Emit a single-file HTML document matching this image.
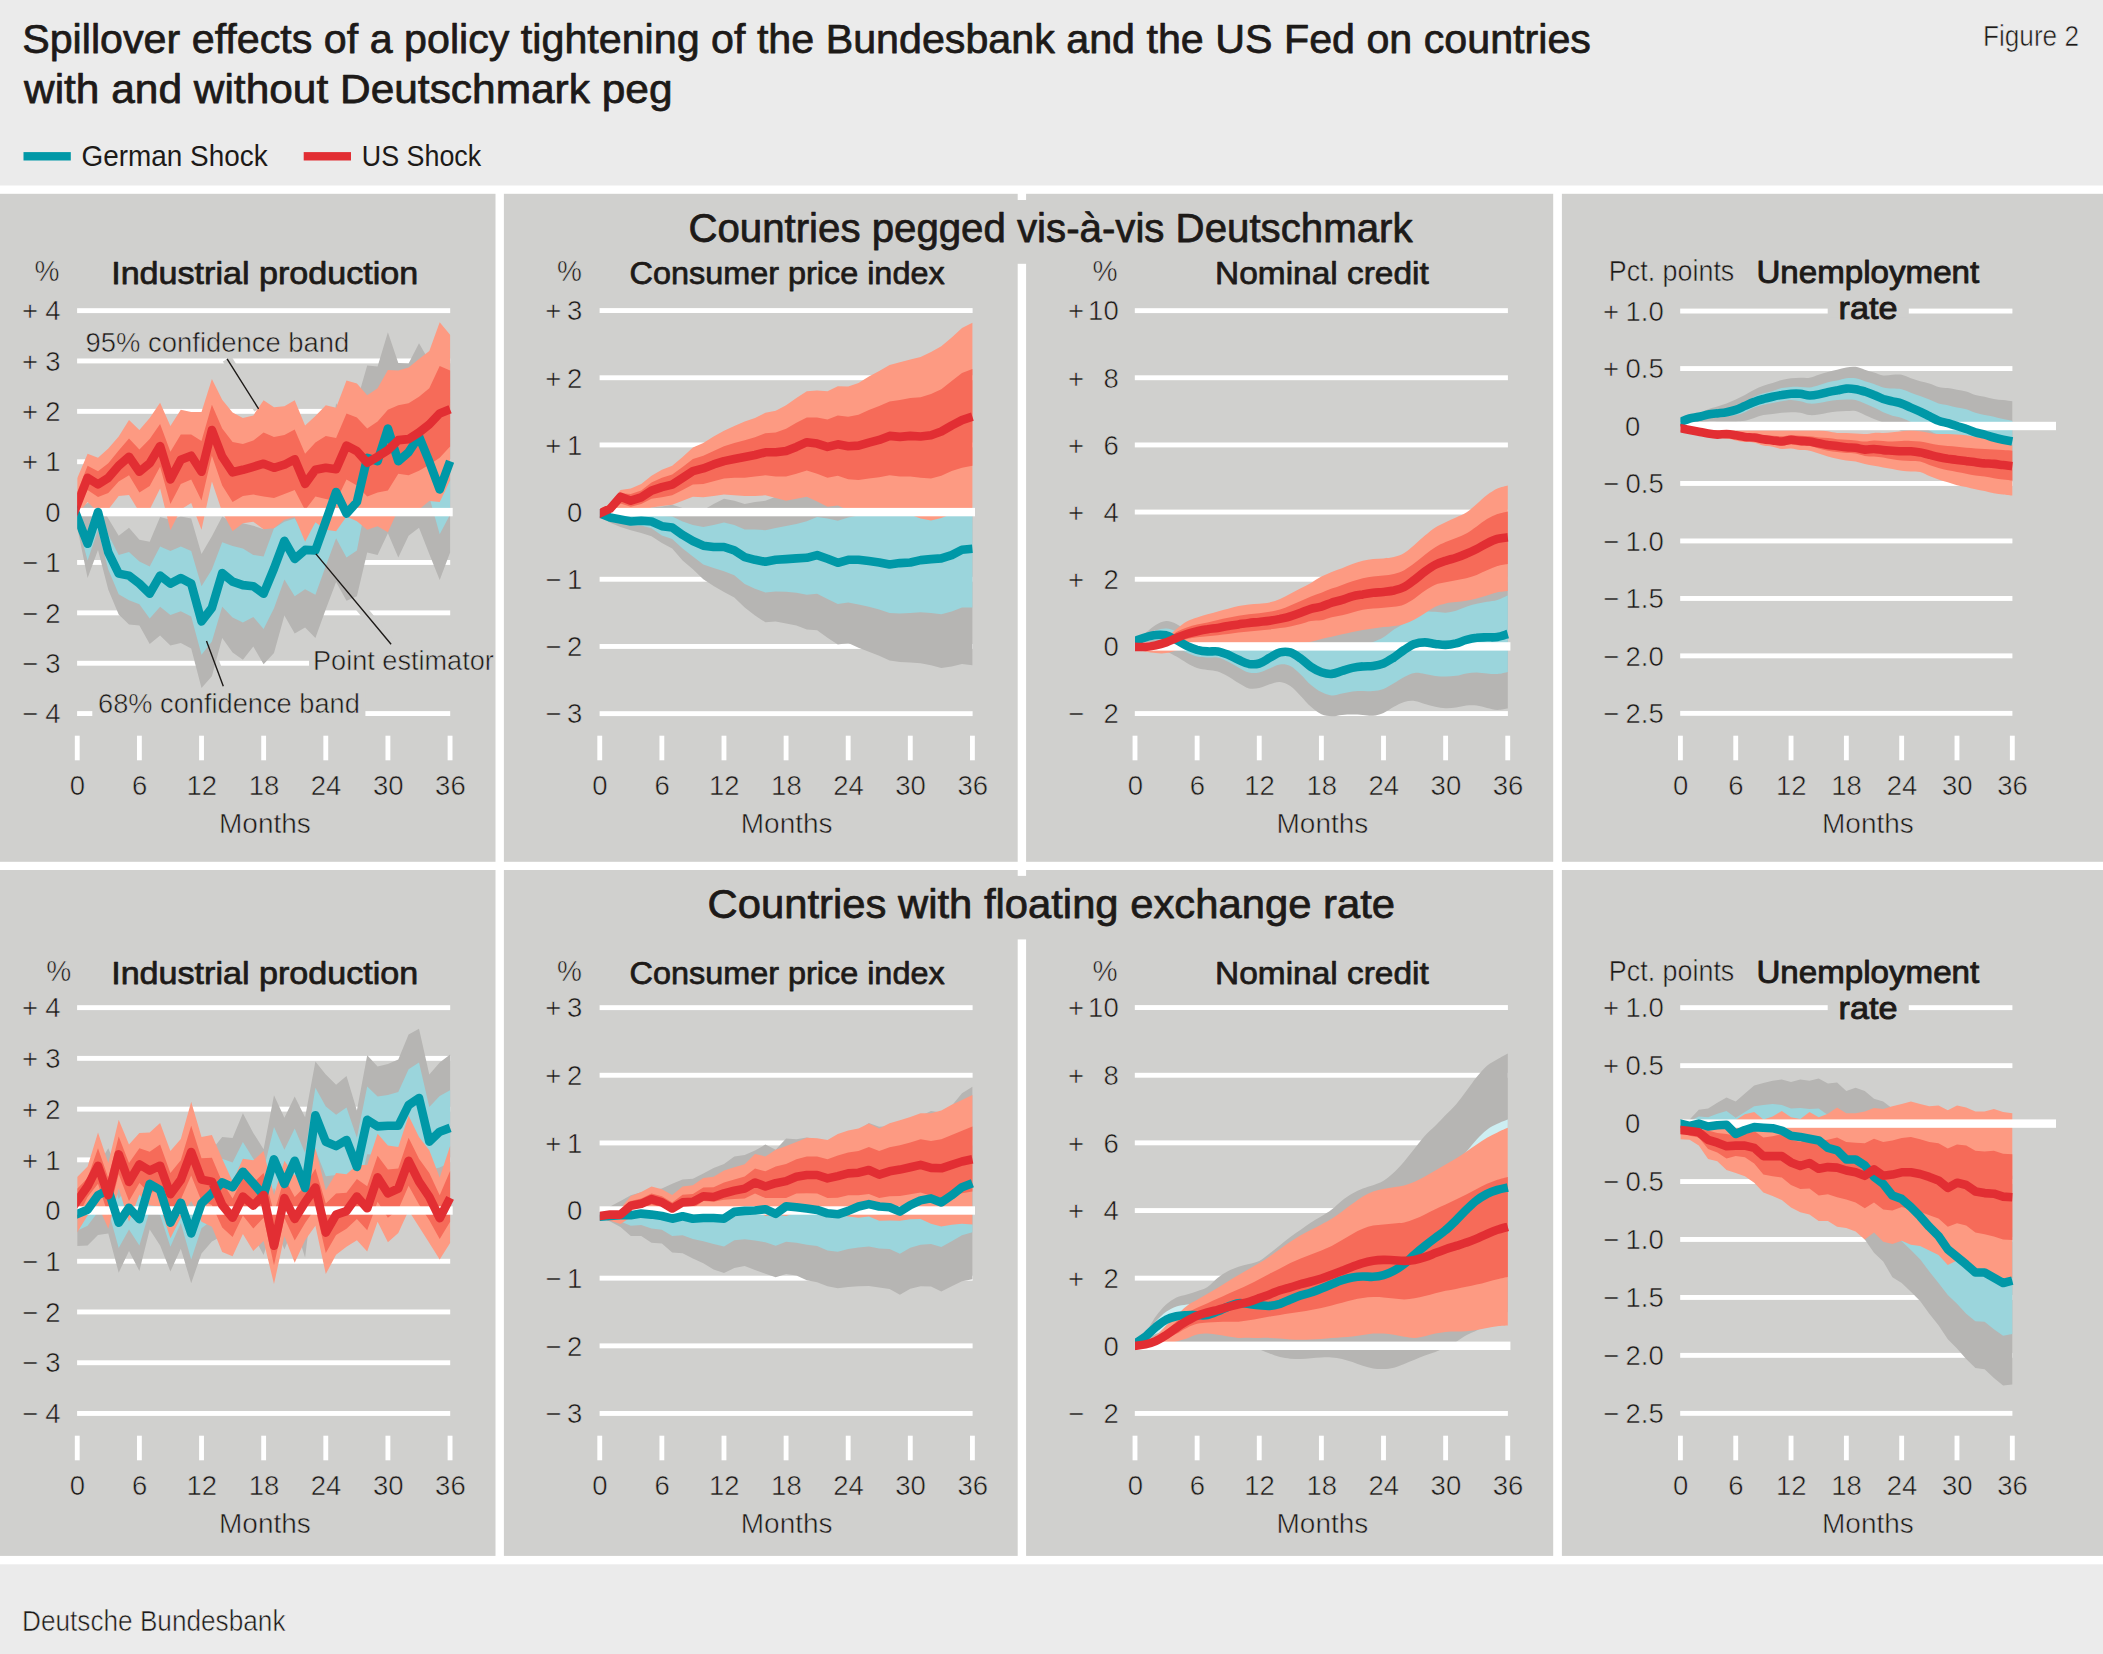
<!DOCTYPE html>
<html><head><meta charset="utf-8"><title>Figure 2</title>
<style>html,body{margin:0;padding:0;background:#ebebeb}svg{display:block}text{font-family:'Liberation Sans', sans-serif;fill:#1d1a18}</style>
</head><body>
<svg xmlns="http://www.w3.org/2000/svg" width="2103" height="1654" viewBox="0 0 2103 1654">
<rect width="2103" height="1654" fill="#ebebeb"/>
<rect x="0" y="185.5" width="2103" height="1378.8" fill="#fff"/>
<rect x="0" y="193.8" width="495.5" height="668" fill="#d0d0ce"/>
<rect x="503.9" y="193.8" width="513.8" height="668" fill="#d0d0ce"/>
<rect x="1026.1" y="193.8" width="527.1" height="668" fill="#d0d0ce"/>
<rect x="1561.9" y="193.8" width="541.1" height="668" fill="#d0d0ce"/>
<rect x="0" y="870" width="495.5" height="685.9" fill="#d0d0ce"/>
<rect x="503.9" y="870" width="513.8" height="685.9" fill="#d0d0ce"/>
<rect x="1026.1" y="870" width="527.1" height="685.9" fill="#d0d0ce"/>
<rect x="1561.9" y="870" width="541.1" height="685.9" fill="#d0d0ce"/>
<rect x="1017" y="200" width="10" height="63.8" fill="#d0d0ce"/>
<rect x="1017" y="875.9" width="10" height="63.5" fill="#d0d0ce"/>
<g id="p1">
<rect x="77.1" y="308.2" width="373.1" height="4.9" fill="#fff"/>
<rect x="77.1" y="358.5" width="373.1" height="4.9" fill="#fff"/>
<rect x="77.1" y="408.9" width="373.1" height="4.9" fill="#fff"/>
<rect x="77.1" y="459.3" width="373.1" height="4.9" fill="#fff"/>
<rect x="77.1" y="560" width="373.1" height="4.9" fill="#fff"/>
<rect x="77.1" y="610.4" width="373.1" height="4.9" fill="#fff"/>
<rect x="77.1" y="660.8" width="373.1" height="4.9" fill="#fff"/>
<rect x="77.1" y="711.1" width="373.1" height="4.9" fill="#fff"/>
<rect x="92.3" y="690" width="273.1" height="30" fill="#d0d0ce"/>
<rect x="309" y="650" width="160" height="26" fill="#d0d0ce"/>
<path d="M227.1 358.9L258.6 408.9M315.9 553.9L391.1 644.2M206.5 641L223.3 686.2" stroke="#d0d0ce" stroke-width="10" fill="none"/>
<clipPath id="c1"><rect x="77.2" y="0" width="500" height="1654"/></clipPath>
<g clip-path="url(#c1)">
<path d="M77.2 509.6L87.6 503L98 501L108.3 518.6L118.7 535.8L129 527.7L139.4 539.8L149.7 541.8L160.1 517.1L170.4 519.7L180.8 516.6L191.2 518.6L201.5 553.9L211.9 536.3L222.2 516.6L232.6 522.2L242.9 523.2L253.3 525.7L263.6 529.2L274 507.1L284.4 497L294.7 502L305.1 507.1L315.4 502L325.8 471.8L336.1 403.3L346.5 421.4L356.9 401.3L367.2 365.5L377.6 366.5L387.9 332.3L398.3 363L408.6 363.5L419 343.3L429.3 361L439.7 386.2L450.1 361L450.1 552.4L439.7 580.1L429.3 553.9L419 527.7L408.6 535.8L398.3 557.4L387.9 533.3L377.6 554.9L367.2 552.4L356.9 596.2L346.5 600.8L336.1 582.1L325.8 609.3L315.4 638L305.1 627.5L294.7 633.5L284.4 615.4L274 653.1L263.6 664.2L253.3 646.6L242.9 659.7L232.6 652.6L222.2 638L211.9 676.3L201.5 687.9L191.2 648.6L180.8 643.1L170.4 645.6L160.1 635.5L149.7 644.1L139.4 625.4L129 624.4L118.7 614.4L108.3 589.7L98 549.9L87.6 578.1L77.2 527.2Z" fill="#b6b5b3"/>
<path d="M77.2 512.1L87.6 537.3L98 506.1L108.3 534.8L118.7 554.9L129 551.9L139.4 561.5L149.7 566.5L160.1 546.4L170.4 550.9L180.8 546.4L191.2 550.9L201.5 586.2L211.9 569.5L222.2 542.3L232.6 545.9L242.9 548.4L253.3 554.9L263.6 556.4L274 528.2L284.4 521.7L294.7 518.6L305.1 533.8L315.4 522.2L325.8 497L336.1 466.8L346.5 486.9L356.9 476.8L367.2 431.5L377.6 436.5L387.9 401.3L398.3 436.5L408.6 426.5L419 411.4L429.3 436.5L439.7 461.7L450.1 436.5L450.1 514.6L439.7 534.3L429.3 497L419 476.8L408.6 486.9L398.3 497L387.9 466.8L377.6 497L367.2 497L356.9 550.4L346.5 557.4L336.1 538.3L325.8 566L315.4 594.7L305.1 589.2L294.7 596.2L284.4 579.6L274 608.3L263.6 629L253.3 616.9L242.9 622.4L232.6 617.4L222.2 606.8L211.9 641.6L201.5 654.7L191.2 616.4L180.8 611.3L170.4 614.9L160.1 606.8L149.7 618.4L139.4 604.3L129 600.3L118.7 594.2L108.3 569.5L98 529.7L87.6 560.5L77.2 522.2Z" fill="#9bd5dc"/>
<path d="M77.2 478.3L87.6 453.7L98 457.7L108.3 448.6L118.7 436.5L129 419.9L139.4 430L149.7 417.9L160.1 402.8L170.4 426L180.8 409.8L191.2 411.9L201.5 411.9L211.9 379.1L222.2 399.8L232.6 412.4L242.9 417.9L253.3 415.4L263.6 400.3L274 407.3L284.4 406.3L294.7 400.3L305.1 425.5L315.4 415.9L325.8 405.3L336.1 407.8L346.5 380.6L356.9 383.6L367.2 395.2L377.6 388.2L387.9 370L398.3 370.5L408.6 367.5L419 359L429.3 350.9L439.7 322.2L450.1 334.8L450.1 480.4L439.7 502L429.3 501L419 509.6L408.6 508.1L398.3 509.6L387.9 532.2L377.6 526.2L367.2 529.7L356.9 521.2L346.5 516.6L336.1 531.2L325.8 529.7L315.4 522.2L305.1 541.8L294.7 517.1L284.4 519.7L274 528.2L263.6 529.2L253.3 521.7L242.9 523.2L232.6 531.2L222.2 512.1L211.9 481.4L201.5 529.7L191.2 503L180.8 509.6L170.4 530.2L160.1 488.4L149.7 509.6L139.4 512.1L129 495L118.7 496L108.3 509.6L98 512.1L87.6 502L77.2 514.6Z" fill="#fd9a82"/>
<path d="M77.2 492L87.6 465.8L98 471.3L108.3 463.2L118.7 450.6L129 438.6L139.4 449.6L149.7 439.1L160.1 423.9L170.4 451.7L180.8 434.5L191.2 434.5L201.5 441.1L211.9 404.8L222.2 428.5L232.6 442.1L242.9 444.1L253.3 440.6L263.6 432.5L274 437L284.4 435L294.7 429.5L305.1 453.7L315.4 442.6L325.8 436L336.1 438L346.5 413.4L356.9 417.4L367.2 428.5L377.6 421.4L387.9 409.8L398.3 405.3L408.6 403.3L419 396.7L429.3 388.2L439.7 366L450.1 370.5L450.1 446.6L439.7 457.7L429.3 464.7L419 470.8L408.6 475.3L398.3 473.8L387.9 490.4L377.6 492.5L367.2 496.5L356.9 485.4L346.5 479.4L336.1 501L325.8 499L315.4 496.5L305.1 510.1L294.7 489.9L284.4 494L274 498L263.6 496.5L253.3 494.5L242.9 496L232.6 502L222.2 485.4L211.9 455.7L201.5 500.5L191.2 479.4L180.8 483.9L170.4 504L160.1 466.8L149.7 485.9L139.4 492.5L129 475.3L118.7 481.4L108.3 493L98 497L87.6 489.9L77.2 509.6Z" fill="#f66b59"/>
</g>
<rect x="77.2" y="507.9" width="375.5" height="8.4" fill="#fff"/>
<g clip-path="url(#c1)">
<path d="M69 495.8L77.2 517.1L87.6 543.8L98 512.1L108.3 552.4L118.7 573.6L129 575.6L139.4 583.6L149.7 593.7L160.1 575.6L170.4 583.6L180.8 578.1L191.2 583.6L201.5 621.4L211.9 607.8L222.2 573.1L232.6 581.6L242.9 585.1L253.3 586.2L263.6 593.7L274 568.5L284.4 540.8L294.7 558.9L305.1 549.9L315.4 550.4L325.8 521.2L336.1 492L346.5 513.6L356.9 502L367.2 457.9L377.6 461.2L387.9 428.5L398.3 461.2L408.6 452.2L419 436.5L429.3 461.7L439.7 489.4L450.1 461.2" fill="none" stroke="#0098a7" stroke-width="8.6" stroke-linejoin="round" stroke-linecap="butt"/>
<path d="M69 525.9L77.2 504.5L87.6 477.8L98 484.4L108.3 477.8L118.7 465.8L129 456.7L139.4 471.8L149.7 463.2L160.1 446.1L170.4 479.4L180.8 459.7L191.2 455.7L201.5 471.8L211.9 430L222.2 456.7L232.6 472.3L242.9 469.8L253.3 466.8L263.6 463.7L274 467.8L284.4 464.7L294.7 459.2L305.1 483.9L315.4 469.8L325.8 467.8L336.1 469.3L346.5 445.6L356.9 451.1L367.2 462.7L377.6 456.7L387.9 450.1L398.3 440.1L408.6 439.1L419 432.5L429.3 424.4L439.7 413.4L450.1 409.3" fill="none" stroke="#e22e33" stroke-width="8.6" stroke-linejoin="round" stroke-linecap="butt"/>
</g>
<rect x="74.83" y="735.7" width="4.85" height="24.6" fill="#fff"/>
<rect x="136.96" y="735.7" width="4.85" height="24.6" fill="#fff"/>
<rect x="199.1" y="735.7" width="4.85" height="24.6" fill="#fff"/>
<rect x="261.23" y="735.7" width="4.85" height="24.6" fill="#fff"/>
<rect x="323.36" y="735.7" width="4.85" height="24.6" fill="#fff"/>
<rect x="385.5" y="735.7" width="4.85" height="24.6" fill="#fff"/>
<rect x="447.63" y="735.7" width="4.85" height="24.6" fill="#fff"/>
</g>
<g id="p2">
<rect x="599.6" y="308.1" width="373" height="4.9" fill="#fff"/>
<rect x="599.6" y="375.3" width="373" height="4.9" fill="#fff"/>
<rect x="599.6" y="442.5" width="373" height="4.9" fill="#fff"/>
<rect x="599.6" y="576.8" width="373" height="4.9" fill="#fff"/>
<rect x="599.6" y="644" width="373" height="4.9" fill="#fff"/>
<rect x="599.6" y="711.2" width="373" height="4.9" fill="#fff"/>
<clipPath id="c2"><rect x="599.8" y="0" width="500" height="1654"/></clipPath>
<g clip-path="url(#c2)">
<path d="M599.8 512.1L610.1 512.1L620.5 510.8L630.8 510.1L641.2 509.4L651.5 507.4L661.9 506.4L672.2 504.7L682.6 508.1L692.9 510.8L703.3 510.1L713.6 504L724 498.7L734.3 500.7L744.7 504L755 502L765.4 500.7L775.7 496.7L786.1 497.3L796.4 496L806.8 494.6L817.1 497.3L827.5 500L837.8 500.7L848.2 504L858.5 506.7L868.9 508.7L879.2 508.7L889.6 508.7L899.9 508.7L910.3 508.7L920.6 510.1L931 510.1L941.3 510.1L951.7 510.1L962 510.1L972.4 510.1L972.4 665.2L962 663.9L951.7 666.6L941.3 667.9L931 665.2L920.6 663.2L910.3 662.6L899.9 661.9L889.6 660.5L879.2 655.8L868.9 651.8L858.5 647.8L848.2 643.1L837.8 644.4L827.5 637.7L817.1 630.3L806.8 629.6L796.4 625.6L786.1 623.6L775.7 621.6L765.4 622.3L755 615.5L744.7 607.5L734.3 597.4L724 592L713.6 586L703.3 579.3L692.9 569.2L682.6 560.5L672.2 548.4L661.9 543L651.5 536.3L641.2 532.9L630.8 530.2L620.5 526.9L610.1 522.8L599.8 515.5Z" fill="#b6b5b3"/>
<path d="M599.8 512.8L610.1 514.1L620.5 514.8L630.8 515.5L641.2 515.5L651.5 515.5L661.9 516.1L672.2 516.5L682.6 521.5L692.9 524.9L703.3 526.9L713.6 524.9L724 522.5L734.3 524.9L744.7 529.6L755 529.6L765.4 530.2L775.7 527.9L786.1 525.9L796.4 523.9L806.8 521.2L817.1 517.1L827.5 518.5L837.8 520.8L848.2 517.5L858.5 515.5L868.9 515.5L879.2 515.5L889.6 515.5L899.9 515.5L910.3 515.5L920.6 514.1L931 514.1L941.3 514.1L951.7 515.5L962 515.5L972.4 515.5L972.4 607.5L962 607.5L951.7 611.5L941.3 614.2L931 612.9L920.6 612.2L910.3 612.9L899.9 613.5L889.6 612.9L879.2 609.5L868.9 606.8L858.5 604.5L848.2 602.4L837.8 604.1L827.5 599.1L817.1 593.7L806.8 594.7L796.4 592.7L786.1 591.7L775.7 591.4L765.4 592.4L755 588.7L744.7 584L734.3 575.2L724 571.2L713.6 567.9L703.3 564.5L692.9 556.4L682.6 548.4L672.2 539L661.9 535.6L651.5 528.2L641.2 525.5L630.8 525.5L620.5 522.8L610.1 520.2L599.8 514.8Z" fill="#9bd5dc"/>
<path d="M599.8 508.7L610.1 504L620.5 489.9L630.8 488.6L641.2 483.9L651.5 475.8L661.9 469.8L672.2 465.8L682.6 457L692.9 447.6L703.3 442.9L713.6 436.5L724 430.8L734.3 426.1L744.7 421.4L755 418.1L765.4 412.7L775.7 410.7L786.1 405.3L796.4 397.9L806.8 391.2L817.1 390.5L827.5 391.2L837.8 386.2L848.2 386.5L858.5 383.1L868.9 376.4L879.2 371L889.6 365L899.9 362.3L910.3 359.6L920.6 356.9L931 351.9L941.3 346.2L951.7 337.5L962 328.1L972.4 322.7L972.4 512.1L962 512.1L951.7 514.1L941.3 518.1L931 520.5L920.6 518.5L910.3 514.8L899.9 514.1L889.6 514.1L879.2 514.1L868.9 514.1L858.5 513.4L848.2 510.1L837.8 505.4L827.5 506.7L817.1 501.4L806.8 496.7L796.4 498.7L786.1 500.7L775.7 498L765.4 495.3L755 496L744.7 496L734.3 495.3L724 494.6L713.6 496L703.3 497.3L692.9 496.7L682.6 500.7L672.2 504.7L661.9 506.1L651.5 507.4L641.2 510.8L630.8 512.1L620.5 510.1L610.1 517.5L599.8 517.5Z" fill="#fd9a82"/>
<path d="M599.8 510.8L610.1 506.1L620.5 493.3L630.8 494L641.2 490.6L651.5 482.5L661.9 477.8L672.2 474.5L682.6 467.1L692.9 459L703.3 455.7L713.6 451L724 446.3L734.3 442.9L744.7 440.2L755 437.2L765.4 433.2L775.7 432.5L786.1 428.8L796.4 422.8L806.8 417.4L817.1 417.4L827.5 419.4L837.8 415.4L848.2 416.7L858.5 414.7L868.9 410L879.2 406L889.6 401.6L899.9 399.9L910.3 397.9L920.6 397.2L931 393.9L941.3 389.2L951.7 381.1L962 373.1L972.4 369L972.4 465.8L962 467.8L951.7 471.1L941.3 475.8L931 478.5L920.6 477.8L910.3 476.5L899.9 476.5L889.6 475.2L879.2 477.2L868.9 478.5L858.5 479.9L848.2 479.2L837.8 475.8L827.5 477.8L817.1 473.8L806.8 470.5L796.4 473.8L786.1 476.5L775.7 476.5L765.4 475.2L755 476.5L744.7 477.8L734.3 477.8L724 478.5L713.6 481.2L703.3 483.9L692.9 484.6L682.6 489.9L672.2 495.3L661.9 497.3L651.5 498.7L641.2 504L630.8 506.7L620.5 503.4L610.1 512.1L599.8 515.5Z" fill="#f66b59"/>
</g>
<rect x="599.6" y="507.9" width="375.4" height="8.4" fill="#fff"/>
<g clip-path="url(#c2)">
<path d="M591.5 510.2L599.8 513.4L610.1 517.5L620.5 519.5L630.8 521.5L641.2 520.8L651.5 521.5L661.9 526.2L672.2 527.5L682.6 534.9L692.9 541L703.3 545.7L713.6 547L724 547L734.3 550.4L744.7 557.1L755 559.8L765.4 561.8L775.7 559.8L786.1 559.1L796.4 558.4L806.8 557.8L817.1 555.1L827.5 558.8L837.8 562.8L848.2 559.8L858.5 559.8L868.9 561.1L879.2 562.5L889.6 564.5L899.9 563.1L910.3 562.5L920.6 560.1L931 559.1L941.3 558.4L951.7 555.1L962 549.7L972.4 548.7" fill="none" stroke="#0098a7" stroke-width="8.6" stroke-linejoin="round" stroke-linecap="butt"/>
<path d="M591.5 517.2L599.8 513.4L610.1 508.7L620.5 496.7L630.8 500.7L641.2 497.3L651.5 490.6L661.9 487.2L672.2 484.6L682.6 477.8L692.9 471.1L703.3 468.4L713.6 464.4L724 461.1L734.3 459L744.7 457L755 455L765.4 452.3L775.7 452.3L786.1 451L796.4 446.9L806.8 442.2L817.1 443.6L827.5 446.9L837.8 444.3L848.2 446.3L858.5 445.6L868.9 442.6L879.2 439.9L889.6 435.9L899.9 436.9L910.3 435.9L920.6 436.5L931 435.2L941.3 431.5L951.7 425.5L962 420.1L972.4 416.7" fill="none" stroke="#e22e33" stroke-width="8.6" stroke-linejoin="round" stroke-linecap="butt"/>
</g>
<rect x="597.33" y="735.7" width="4.85" height="24.6" fill="#fff"/>
<rect x="659.44" y="735.7" width="4.85" height="24.6" fill="#fff"/>
<rect x="721.55" y="735.7" width="4.85" height="24.6" fill="#fff"/>
<rect x="783.66" y="735.7" width="4.85" height="24.6" fill="#fff"/>
<rect x="845.76" y="735.7" width="4.85" height="24.6" fill="#fff"/>
<rect x="907.87" y="735.7" width="4.85" height="24.6" fill="#fff"/>
<rect x="969.98" y="735.7" width="4.85" height="24.6" fill="#fff"/>
</g>
<g id="p3">
<rect x="1134.8" y="308.2" width="373.1" height="4.9" fill="#fff"/>
<rect x="1134.8" y="375.3" width="373.1" height="4.9" fill="#fff"/>
<rect x="1134.8" y="442.5" width="373.1" height="4.9" fill="#fff"/>
<rect x="1134.8" y="509.6" width="373.1" height="4.9" fill="#fff"/>
<rect x="1134.8" y="576.8" width="373.1" height="4.9" fill="#fff"/>
<rect x="1134.8" y="711.1" width="373.1" height="4.9" fill="#fff"/>
<clipPath id="c3"><rect x="1135" y="0" width="500" height="1654"/></clipPath>
<g clip-path="url(#c3)">
<path d="M1135 639.7C1136.7 638.6 1141.9 635.4 1145.4 633C1148.8 630.5 1152.3 626.9 1155.7 624.9C1159.2 622.9 1162.6 621 1166.1 620.9C1169.5 620.7 1173 622.2 1176.4 623.9C1179.9 625.6 1183.3 628.9 1186.8 631.3C1190.2 633.6 1193.7 636.3 1197.1 638C1200.6 639.7 1204 640.6 1207.5 641.4C1210.9 642.1 1214.4 642.1 1217.8 642.4C1221.3 642.7 1224.7 642.8 1228.2 643C1231.6 643.3 1235.1 643.4 1238.5 643.7C1242 644 1245.4 644.6 1248.9 644.7C1252.3 644.9 1255.8 644.9 1259.2 644.7C1262.7 644.6 1266.2 644 1269.6 643.7C1273.1 643.4 1276.5 643.2 1280 643C1283.4 642.9 1286.9 643.3 1290.3 643C1293.8 642.8 1297.2 642.5 1300.7 641.4C1304.1 640.2 1307.6 637.7 1311 636.3C1314.5 634.9 1317.9 633.8 1321.4 633C1324.8 632.1 1328.3 631.8 1331.7 631.3C1335.2 630.7 1338.6 630.2 1342.1 629.6C1345.5 629.1 1349 628.5 1352.4 627.9C1355.9 627.4 1359.3 627.1 1362.8 626.3C1366.2 625.4 1369.7 624.3 1373.1 622.9C1376.6 621.5 1380 620.1 1383.5 617.9C1387 615.6 1390.4 612 1393.9 609.5C1397.3 606.9 1400.8 605 1404.2 602.7C1407.7 600.5 1411.1 598.5 1414.6 596C1418 593.5 1421.5 589.3 1424.9 587.6C1428.4 586 1431.8 586.2 1435.3 586C1438.7 585.7 1442.2 586.2 1445.6 586C1449.1 585.7 1452.5 585.4 1456 584.3C1459.4 583.2 1462.9 580.6 1466.3 579.2C1469.8 577.8 1473.2 577 1476.7 575.9C1480.1 574.8 1483.6 573.6 1487 572.5C1490.5 571.4 1493.9 570.6 1497.4 569.2C1500.8 567.8 1506 565 1507.8 564.1L1507.8 708.5C1506 708.7 1500.8 710 1497.4 709.9C1493.9 709.8 1490.5 708.6 1487 707.9C1483.6 707.1 1480.1 705.9 1476.7 705.5C1473.2 705.1 1469.8 705.2 1466.3 705.5C1462.9 705.8 1459.4 707.1 1456 707.5C1452.5 708 1449.1 708.3 1445.6 708.2C1442.2 708.1 1438.7 707.5 1435.3 706.8C1431.8 706.1 1428.4 705 1424.9 704C1421.5 703 1418 701.3 1414.6 701C1411.1 700.6 1407.7 701 1404.2 702C1400.8 703 1397.3 705 1393.9 706.8C1390.4 708.7 1387 711.4 1383.5 712.9C1380 714.4 1376.6 715.4 1373.1 715.7C1369.7 716.1 1366.2 715.1 1362.8 714.9C1359.3 714.7 1355.9 714.6 1352.4 714.6C1349 714.6 1345.5 714.6 1342.1 714.9C1338.6 715.2 1335.2 716.4 1331.7 716.2C1328.3 716.1 1324.8 715.8 1321.4 714.2C1317.9 712.7 1314.5 709.9 1311 706.8C1307.6 703.8 1304.1 699.4 1300.7 695.9C1297.2 692.5 1293.8 688.3 1290.3 686C1286.9 683.7 1283.4 682.3 1280 682C1276.5 681.7 1273.1 683.3 1269.6 684.3C1266.2 685.4 1262.7 687.4 1259.2 688C1255.8 688.7 1252.3 689.2 1248.9 688.4C1245.4 687.5 1242 685 1238.5 683C1235.1 681 1231.6 678.4 1228.2 676.5C1224.7 674.5 1221.3 672.5 1217.8 671.4C1214.4 670.3 1210.9 670.5 1207.5 669.9C1204 669.3 1200.6 669.1 1197.1 667.9C1193.7 666.7 1190.2 664.8 1186.8 662.9C1183.3 661 1179.9 658.4 1176.4 656.5C1173 654.6 1169.5 652.6 1166.1 651.4C1162.6 650.3 1159.2 650.3 1155.7 649.8C1152.3 649.2 1148.8 648.6 1145.4 648.1C1141.9 647.5 1136.7 646.7 1135 646.4Z" fill="#b6b5b3"/>
<path d="M1135 639.7C1136.7 638.8 1141.9 636.2 1145.4 634.6C1148.8 633.1 1152.3 631.3 1155.7 630.3C1159.2 629.2 1162.6 628.3 1166.1 628.4C1169.5 628.6 1173 629.7 1176.4 631.3C1179.9 632.9 1183.3 636.2 1186.8 638C1190.2 639.9 1193.7 641.4 1197.1 642.4C1200.6 643.3 1204 643.5 1207.5 643.7C1210.9 643.9 1214.4 643.5 1217.8 643.7C1221.3 643.9 1224.7 644.3 1228.2 644.7C1231.6 645.2 1235.1 645.8 1238.5 646.4C1242 647 1245.4 647.8 1248.9 648.1C1252.3 648.4 1255.8 648.6 1259.2 648.1C1262.7 647.5 1266.2 645.6 1269.6 644.7C1273.1 643.9 1276.5 643.3 1280 643C1283.4 642.8 1286.9 642.8 1290.3 643C1293.8 643.3 1297.2 643.9 1300.7 644.7C1304.1 645.6 1307.6 647.2 1311 648.1C1314.5 648.9 1317.9 649.5 1321.4 649.8C1324.8 650 1328.3 649.9 1331.7 649.8C1335.2 649.6 1338.6 649.4 1342.1 649.1C1345.5 648.8 1349 648.5 1352.4 648.1C1355.9 647.6 1359.3 647.4 1362.8 646.4C1366.2 645.4 1369.7 643.5 1373.1 642C1376.6 640.5 1380 639.4 1383.5 637.3C1387 635.2 1390.4 631.8 1393.9 629.4C1397.3 627.1 1400.8 625.4 1404.2 623.4C1407.7 621.4 1411.1 619.5 1414.6 617.5C1418 615.6 1421.5 612.8 1424.9 611.8C1428.4 610.9 1431.8 611.7 1435.3 611.8C1438.7 612 1442.2 612.8 1445.6 612.7C1449.1 612.5 1452.5 611.8 1456 610.8C1459.4 609.8 1462.9 608 1466.3 606.8C1469.8 605.6 1473.2 604.6 1476.7 603.8C1480.1 602.9 1483.6 602.4 1487 601.7C1490.5 601.1 1493.9 601 1497.4 599.9C1500.8 598.8 1506 596.1 1507.8 595.4L1507.8 671.9C1506 672.3 1500.8 673.7 1497.4 673.9C1493.9 674.2 1490.5 673.7 1487 673.4C1483.6 673.2 1480.1 672.4 1476.7 672.4C1473.2 672.4 1469.8 672.9 1466.3 673.4C1462.9 674 1459.4 675.3 1456 675.8C1452.5 676.3 1449.1 676.6 1445.6 676.6C1442.2 676.6 1438.7 676.4 1435.3 676C1431.8 675.5 1428.4 674.4 1424.9 673.9C1421.5 673.4 1418 672.4 1414.6 672.9C1411.1 673.4 1407.7 675.2 1404.2 677C1400.8 678.7 1397.3 681.4 1393.9 683.3C1390.4 685.3 1387 687.6 1383.5 688.9C1380 690.2 1376.6 690.7 1373.1 691.1C1369.7 691.4 1366.2 690.8 1362.8 690.9C1359.3 690.9 1355.9 691 1352.4 691.4C1349 691.8 1345.5 692.7 1342.1 693.4C1338.6 694.1 1335.2 695.7 1331.7 695.4C1328.3 695.2 1324.8 693.8 1321.4 692.1C1317.9 690.3 1314.5 688 1311 685C1307.6 682.1 1304.1 677.6 1300.7 674.4C1297.2 671.2 1293.8 667.6 1290.3 665.9C1286.9 664.2 1283.4 663.9 1280 664.4C1276.5 664.8 1273.1 667.1 1269.6 668.4C1266.2 669.7 1262.7 671.8 1259.2 672.4C1255.8 673.1 1252.3 673.3 1248.9 672.4C1245.4 671.6 1242 669.2 1238.5 667.4C1235.1 665.6 1231.6 663.5 1228.2 661.8C1224.7 660.2 1221.3 658.2 1217.8 657.5C1214.4 656.8 1210.9 657.6 1207.5 657.5C1204 657.3 1200.6 657.3 1197.1 656.5C1193.7 655.6 1190.2 654.1 1186.8 652.4C1183.3 650.8 1179.9 648.2 1176.4 646.4C1173 644.6 1169.5 642.5 1166.1 641.4C1162.6 640.2 1159.2 639.7 1155.7 639.7C1152.3 639.7 1148.8 640.8 1145.4 641.4C1141.9 641.9 1136.7 642.8 1135 643Z" fill="#9bd5dc"/>
<path d="M1135 644.7C1136.7 644.7 1141.9 645 1145.4 644.7C1148.8 644.4 1152.3 644.2 1155.7 643C1159.2 641.9 1162.6 640.4 1166.1 638C1169.5 635.7 1173 631.7 1176.4 628.9C1179.9 626.2 1183.3 623.3 1186.8 621.4C1190.2 619.5 1193.7 618.5 1197.1 617.4C1200.6 616.2 1204 615.3 1207.5 614.3C1210.9 613.4 1214.4 612.4 1217.8 611.5C1221.3 610.6 1224.7 609.7 1228.2 608.8C1231.6 607.9 1235.1 606.8 1238.5 606.1C1242 605.4 1245.4 604.8 1248.9 604.4C1252.3 604 1255.8 604.1 1259.2 603.8C1262.7 603.4 1266.2 603.2 1269.6 602.4C1273.1 601.6 1276.5 600.3 1280 598.9C1283.4 597.5 1286.9 595.6 1290.3 593.8C1293.8 592.1 1297.2 590.1 1300.7 588.3C1304.1 586.5 1307.6 584.9 1311 582.9C1314.5 581 1317.9 578.4 1321.4 576.6C1324.8 574.7 1328.3 573.3 1331.7 571.9C1335.2 570.5 1338.6 569.4 1342.1 568.2C1345.5 566.9 1349 565.4 1352.4 564.1C1355.9 562.9 1359.3 561.6 1362.8 560.8C1366.2 559.9 1369.7 559.5 1373.1 559.1C1376.6 558.7 1380 558.8 1383.5 558.4C1387 558.1 1390.4 558 1393.9 557.1C1397.3 556.2 1400.8 555.1 1404.2 553C1407.7 551 1411.1 547.6 1414.6 544.7C1418 541.7 1421.5 538.4 1424.9 535.6C1428.4 532.7 1431.8 529.8 1435.3 527.5C1438.7 525.3 1442.2 523.8 1445.6 522.2C1449.1 520.5 1452.5 519.2 1456 517.6C1459.4 516 1462.9 514.9 1466.3 512.6C1469.8 510.3 1473.2 506.9 1476.7 504C1480.1 501.1 1483.6 497.7 1487 495.1C1490.5 492.5 1493.9 490.2 1497.4 488.6C1500.8 487 1506 485.9 1507.8 485.4L1507.8 591C1506 591.2 1500.8 591.6 1497.4 592.3C1493.9 593.1 1490.5 594.4 1487 595.4C1483.6 596.4 1480.1 597.5 1476.7 598.4C1473.2 599.3 1469.8 600.1 1466.3 600.7C1462.9 601.3 1459.4 601.6 1456 602.1C1452.5 602.5 1449.1 602.6 1445.6 603.4C1442.2 604.2 1438.7 605.1 1435.3 606.8C1431.8 608.4 1428.4 611.2 1424.9 613.3C1421.5 615.4 1418 617.6 1414.6 619.4C1411.1 621.1 1407.7 622.8 1404.2 623.9C1400.8 625 1397.3 625.4 1393.9 625.9C1390.4 626.4 1387 626.7 1383.5 627.1C1380 627.5 1376.6 628 1373.1 628.4C1369.7 628.9 1366.2 629.3 1362.8 629.9C1359.3 630.6 1355.9 631.4 1352.4 632.1C1349 632.9 1345.5 633.6 1342.1 634.3C1338.6 635.1 1335.2 635.9 1331.7 636.7C1328.3 637.4 1324.8 638.2 1321.4 639C1317.9 639.9 1314.5 641.1 1311 641.7C1307.6 642.3 1304.1 642.5 1300.7 642.7C1297.2 642.9 1293.8 642.9 1290.3 643C1286.9 643.2 1283.4 643.3 1280 643.4C1276.5 643.5 1273.1 643.6 1269.6 643.7C1266.2 643.8 1262.7 643.9 1259.2 644C1255.8 644.2 1252.3 644.3 1248.9 644.4C1245.4 644.5 1242 644.6 1238.5 644.7C1235.1 644.8 1231.6 644.9 1228.2 645.1C1224.7 645.2 1221.3 645.3 1217.8 645.4C1214.4 645.5 1210.9 645.6 1207.5 645.7C1204 645.9 1200.6 646 1197.1 646.4C1193.7 646.8 1190.2 647.4 1186.8 648.1C1183.3 648.8 1179.9 649.6 1176.4 650.4C1173 651.3 1169.5 652.7 1166.1 653.1C1162.6 653.6 1159.2 653.4 1155.7 653.1C1152.3 652.8 1148.8 651.9 1145.4 651.4C1141.9 651 1136.7 650.6 1135 650.4Z" fill="#fd9a82"/>
<path d="M1135 645.7C1136.7 645.7 1141.9 646 1145.4 645.7C1148.8 645.4 1152.3 644.9 1155.7 644C1159.2 643.2 1162.6 642.4 1166.1 640.4C1169.5 638.3 1173 634.1 1176.4 632C1179.9 629.8 1183.3 628.7 1186.8 627.4C1190.2 626.2 1193.7 625.2 1197.1 624.4C1200.6 623.6 1204 623.1 1207.5 622.4C1210.9 621.6 1214.4 620.7 1217.8 619.9C1221.3 619.1 1224.7 618.4 1228.2 617.7C1231.6 617 1235.1 616.2 1238.5 615.7C1242 615.1 1245.4 614.7 1248.9 614.3C1252.3 613.9 1255.8 613.7 1259.2 613.3C1262.7 612.9 1266.2 612.5 1269.6 611.8C1273.1 611.2 1276.5 610.5 1280 609.5C1283.4 608.4 1286.9 606.9 1290.3 605.4C1293.8 604 1297.2 602.4 1300.7 600.9C1304.1 599.4 1307.6 597.7 1311 596.4C1314.5 595 1317.9 594 1321.4 592.7C1324.8 591.4 1328.3 589.9 1331.7 588.6C1335.2 587.4 1338.6 586.2 1342.1 584.9C1345.5 583.7 1349 582.4 1352.4 581.3C1355.9 580.1 1359.3 579 1362.8 578.2C1366.2 577.4 1369.7 577 1373.1 576.6C1376.6 576.1 1380 576 1383.5 575.5C1387 575.1 1390.4 574.9 1393.9 574C1397.3 573.1 1400.8 572 1404.2 570.2C1407.7 568.4 1411.1 565.7 1414.6 563.1C1418 560.5 1421.5 557.4 1424.9 554.7C1428.4 552.1 1431.8 549.3 1435.3 547.2C1438.7 545.1 1442.2 543.6 1445.6 542.1C1449.1 540.6 1452.5 539.5 1456 538.1C1459.4 536.7 1462.9 535.5 1466.3 533.6C1469.8 531.6 1473.2 528.9 1476.7 526.5C1480.1 524.1 1483.6 521.2 1487 519.1C1490.5 517.1 1493.9 515.4 1497.4 514.1C1500.8 512.8 1506 511.9 1507.8 511.4L1507.8 564.1C1506 564.5 1500.8 565.1 1497.4 566.1C1493.9 567.2 1490.5 568.7 1487 570.2C1483.6 571.6 1480.1 573.5 1476.7 574.9C1473.2 576.2 1469.8 577.3 1466.3 578.2C1462.9 579.1 1459.4 579.6 1456 580.2C1452.5 580.9 1449.1 581.5 1445.6 582.3C1442.2 583 1438.7 583.4 1435.3 584.8C1431.8 586.2 1428.4 588.6 1424.9 590.8C1421.5 593.1 1418 596.1 1414.6 598.4C1411.1 600.6 1407.7 603 1404.2 604.4C1400.8 605.8 1397.3 606.2 1393.9 606.8C1390.4 607.3 1387 607.5 1383.5 607.8C1380 608.1 1376.6 608.3 1373.1 608.6C1369.7 609 1366.2 609.2 1362.8 609.8C1359.3 610.4 1355.9 611.6 1352.4 612.5C1349 613.4 1345.5 614.6 1342.1 615.3C1338.6 616.1 1335.2 616.4 1331.7 617.2C1328.3 618 1324.8 619.6 1321.4 620.2C1317.9 620.8 1314.5 620.3 1311 620.9C1307.6 621.5 1304.1 623 1300.7 623.9C1297.2 624.8 1293.8 625.7 1290.3 626.4C1286.9 627.1 1283.4 627.6 1280 628.1C1276.5 628.6 1273.1 629.1 1269.6 629.4C1266.2 629.8 1262.7 630.1 1259.2 630.4C1255.8 630.8 1252.3 631.1 1248.9 631.5C1245.4 631.8 1242 632.2 1238.5 632.6C1235.1 633.1 1231.6 633.6 1228.2 634C1224.7 634.4 1221.3 634.8 1217.8 635.2C1214.4 635.5 1210.9 636 1207.5 636.3C1204 636.7 1200.6 636.9 1197.1 637.3C1193.7 637.8 1190.2 638.2 1186.8 639C1183.3 639.9 1179.9 641.4 1176.4 642.4C1173 643.3 1169.5 643.9 1166.1 644.7C1162.6 645.5 1159.2 646.5 1155.7 647.1C1152.3 647.6 1148.8 647.9 1145.4 648.1C1141.9 648.2 1136.7 648.1 1135 648.1Z" fill="#f66b59"/>
</g>
<rect x="1134.9" y="642.2" width="375.5" height="8.4" fill="#fff"/>
<g clip-path="url(#c3)">
<path d="M1126.7 644C1128.1 643.5 1131.9 642.1 1135 641C1138.1 639.9 1141.9 638.3 1145.4 637.3C1148.8 636.3 1152.3 635.3 1155.7 635C1159.2 634.6 1162.6 634.5 1166.1 635.3C1169.5 636.2 1173 638.3 1176.4 640C1179.9 641.8 1183.3 644.3 1186.8 645.9C1190.2 647.5 1193.7 648.8 1197.1 649.8C1200.6 650.7 1204 651.2 1207.5 651.4C1210.9 651.7 1214.4 650.9 1217.8 651.4C1221.3 652 1224.7 653.4 1228.2 654.8C1231.6 656.2 1235.1 658.3 1238.5 659.8C1242 661.3 1245.4 663.2 1248.9 663.9C1252.3 664.5 1255.8 664.5 1259.2 663.5C1262.7 662.5 1266.2 659.7 1269.6 657.8C1273.1 656 1276.5 653.3 1280 652.4C1283.4 651.5 1286.9 651.4 1290.3 652.4C1293.8 653.5 1297.2 656.1 1300.7 658.5C1304.1 660.9 1307.6 664.6 1311 666.9C1314.5 669.2 1317.9 671.1 1321.4 672.3C1324.8 673.4 1328.3 674.2 1331.7 673.9C1335.2 673.7 1338.6 671.9 1342.1 670.9C1345.5 669.9 1349 668.6 1352.4 667.9C1355.9 667.1 1359.3 666.7 1362.8 666.4C1366.2 666 1369.7 666.4 1373.1 665.9C1376.6 665.4 1380 664.8 1383.5 663.4C1387 662 1390.4 659.7 1393.9 657.5C1397.3 655.2 1400.8 652.2 1404.2 649.9C1407.7 647.7 1411.1 645.1 1414.6 643.9C1418 642.6 1421.5 642.4 1424.9 642.4C1428.4 642.4 1431.8 643.5 1435.3 643.9C1438.7 644.3 1442.2 645 1445.6 644.9C1449.1 644.8 1452.5 644.2 1456 643.4C1459.4 642.5 1462.9 640.8 1466.3 639.9C1469.8 638.9 1473.2 638.1 1476.7 637.7C1480.1 637.2 1483.6 637.4 1487 637.3C1490.5 637.2 1493.9 637.6 1497.4 637C1500.8 636.4 1506 634.5 1507.8 634" fill="none" stroke="#0098a7" stroke-width="8.6" stroke-linejoin="round" stroke-linecap="butt"/>
<path d="M1126.7 646.9C1128.1 646.9 1131.9 646.9 1135 646.9C1138.1 646.9 1141.9 647.2 1145.4 646.9C1148.8 646.7 1152.3 646.1 1155.7 645.4C1159.2 644.6 1162.6 643.6 1166.1 642.4C1169.5 641.1 1173 639.4 1176.4 638C1179.9 636.6 1183.3 635.1 1186.8 634C1190.2 632.9 1193.7 632.1 1197.1 631.3C1200.6 630.5 1204 629.8 1207.5 629.3C1210.9 628.7 1214.4 628.5 1217.8 627.9C1221.3 627.4 1224.7 626.5 1228.2 625.9C1231.6 625.3 1235.1 624.9 1238.5 624.4C1242 623.9 1245.4 623.3 1248.9 622.9C1252.3 622.5 1255.8 622.3 1259.2 621.9C1262.7 621.5 1266.2 621.2 1269.6 620.7C1273.1 620.2 1276.5 619.6 1280 618.9C1283.4 618.1 1286.9 617.4 1290.3 616.3C1293.8 615.3 1297.2 614.1 1300.7 612.8C1304.1 611.6 1307.6 609.8 1311 608.8C1314.5 607.8 1317.9 607.6 1321.4 606.6C1324.8 605.6 1328.3 603.9 1331.7 602.7C1335.2 601.6 1338.6 601 1342.1 599.9C1345.5 598.8 1349 597.3 1352.4 596.4C1355.9 595.4 1359.3 595 1362.8 594.4C1366.2 593.7 1369.7 593.1 1373.1 592.7C1376.6 592.3 1380 592.4 1383.5 592C1387 591.6 1390.4 591.3 1393.9 590.5C1397.3 589.6 1400.8 588.8 1404.2 587C1407.7 585.2 1411.1 582.3 1414.6 579.7C1418 577.2 1421.5 574 1424.9 571.5C1428.4 569 1431.8 566.6 1435.3 564.8C1438.7 563 1442.2 561.9 1445.6 560.8C1449.1 559.6 1452.5 558.9 1456 557.7C1459.4 556.6 1462.9 555.2 1466.3 553.7C1469.8 552.3 1473.2 550.8 1476.7 549C1480.1 547.3 1483.6 545 1487 543.3C1490.5 541.6 1493.9 540 1497.4 538.9C1500.8 537.9 1506 537.5 1507.8 537.3" fill="none" stroke="#e22e33" stroke-width="8.6" stroke-linejoin="round" stroke-linecap="butt"/>
</g>
<rect x="1132.58" y="735.7" width="4.85" height="24.6" fill="#fff"/>
<rect x="1194.7" y="735.7" width="4.85" height="24.6" fill="#fff"/>
<rect x="1256.83" y="735.7" width="4.85" height="24.6" fill="#fff"/>
<rect x="1318.95" y="735.7" width="4.85" height="24.6" fill="#fff"/>
<rect x="1381.08" y="735.7" width="4.85" height="24.6" fill="#fff"/>
<rect x="1443.2" y="735.7" width="4.85" height="24.6" fill="#fff"/>
<rect x="1505.33" y="735.7" width="4.85" height="24.6" fill="#fff"/>
</g>
<g id="p4">
<rect x="1680.2" y="308.6" width="332.2" height="4.9" fill="#fff"/>
<rect x="1680.2" y="366.1" width="332.2" height="4.9" fill="#fff"/>
<rect x="1680.2" y="481" width="332.2" height="4.9" fill="#fff"/>
<rect x="1680.2" y="538.5" width="332.2" height="4.9" fill="#fff"/>
<rect x="1680.2" y="596" width="332.2" height="4.9" fill="#fff"/>
<rect x="1680.2" y="653.4" width="332.2" height="4.9" fill="#fff"/>
<rect x="1680.2" y="710.9" width="332.2" height="4.9" fill="#fff"/>
<rect x="1827.7" y="305.1" width="81.1" height="12" fill="#d0d0ce"/>
<clipPath id="c4"><rect x="1680.4" y="0" width="500" height="1654"/></clipPath>
<g clip-path="url(#c4)">
<path d="M1680.4 421.4C1681.9 420.6 1686.5 418 1689.6 416.8C1692.7 415.7 1695.8 415.8 1698.8 414.5C1701.9 413.3 1705 410.7 1708.1 409.3C1711.1 408 1714.2 407.4 1717.3 406.5C1720.4 405.5 1723.4 404.7 1726.5 403.6C1729.6 402.4 1732.6 401 1735.7 399.6C1738.8 398.1 1741.9 396.6 1744.9 395C1748 393.3 1751.1 391.3 1754.2 389.8C1757.2 388.3 1760.3 386.9 1763.4 385.8C1766.4 384.6 1769.5 383.9 1772.6 382.9C1775.7 381.9 1778.7 380.8 1781.8 380C1784.9 379.3 1788 378.7 1791 378.3C1794.1 377.9 1797.2 377.8 1800.3 377.7C1803.3 377.6 1806.4 378.2 1809.5 377.7C1812.5 377.2 1815.6 375.8 1818.7 374.8C1821.8 373.9 1824.8 372.8 1827.9 372C1831 371.1 1834.1 370.4 1837.1 369.7C1840.2 368.9 1843.3 367.9 1846.3 367.4C1849.4 366.9 1852.5 366.4 1855.6 366.8C1858.6 367.2 1861.7 368.7 1864.8 369.7C1867.9 370.6 1870.9 371.6 1874 372.5C1877.1 373.5 1880.2 375 1883.2 375.4C1886.3 375.8 1889.4 374.9 1892.4 374.8C1895.5 374.8 1898.6 374.3 1901.7 374.8C1904.7 375.4 1907.8 377.2 1910.9 378.3C1914 379.3 1917 380.3 1920.1 381.2C1923.2 382 1926.3 382.5 1929.3 383.5C1932.4 384.4 1935.5 386.2 1938.5 386.9C1941.6 387.7 1944.7 387.6 1947.8 388.1C1950.8 388.5 1953.9 389.2 1957 389.8C1960.1 390.4 1963.1 390.7 1966.2 391.5C1969.3 392.4 1972.3 394.1 1975.4 395C1978.5 395.8 1981.6 396 1984.6 396.7C1987.7 397.4 1990.8 398.4 1993.9 399C1996.9 399.6 2000 399.8 2003.1 400.1C2006.2 400.5 2010.8 401.1 2012.3 401.3L2012.3 481.8C2010.8 481.1 2006.2 479 2003.1 477.7C2000 476.5 1996.9 475.6 1993.9 474.3C1990.8 472.9 1987.7 471.2 1984.6 469.7C1981.6 468.1 1978.5 466.6 1975.4 465.1C1972.3 463.6 1969.3 462.2 1966.2 460.5C1963.1 458.8 1960.1 456.7 1957 454.7C1953.9 452.8 1950.8 450.7 1947.8 449C1944.7 447.3 1941.6 446.3 1938.5 444.4C1935.5 442.5 1932.4 439.6 1929.3 437.5C1926.3 435.4 1923.2 432.8 1920.1 431.7C1917 430.7 1914 431.3 1910.9 431.2C1907.8 431.1 1904.7 432 1901.7 431.2C1898.6 430.3 1895.5 427.4 1892.4 426C1889.4 424.6 1886.3 423.7 1883.2 422.6C1880.2 421.4 1877.1 420.3 1874 419.1C1870.9 417.9 1867.9 416.4 1864.8 415.1C1861.7 413.7 1858.6 411.7 1855.6 411.1C1852.5 410.4 1849.4 411 1846.3 411.1C1843.3 411.2 1840.2 411.3 1837.1 411.6C1834.1 411.9 1831 412.3 1827.9 412.8C1824.8 413.3 1821.8 414.1 1818.7 414.5C1815.6 414.9 1812.5 415.4 1809.5 415.1C1806.4 414.8 1803.3 413.3 1800.3 412.8C1797.2 412.3 1794.1 412.2 1791 412.2C1788 412.2 1784.9 412.5 1781.8 412.8C1778.7 413.1 1775.7 413.5 1772.6 413.9C1769.5 414.3 1766.4 414.4 1763.4 415.1C1760.3 415.8 1757.2 417 1754.2 418C1751.1 418.9 1748 420.3 1744.9 420.8C1741.9 421.4 1738.8 421.3 1735.7 421.4C1732.6 421.5 1729.6 421.4 1726.5 421.4C1723.4 421.4 1720.4 421.4 1717.3 421.4C1714.2 421.4 1711.1 421.3 1708.1 421.4C1705 421.5 1701.9 421.8 1698.8 422C1695.8 422.2 1692.7 422.3 1689.6 422.6C1686.5 422.8 1681.9 423.5 1680.4 423.7Z" fill="#b6b5b3"/>
<path d="M1680.4 421.4C1681.9 420.7 1686.5 418.3 1689.6 417.4C1692.7 416.4 1695.8 416.5 1698.8 415.7C1701.9 414.8 1705 413 1708.1 412.2C1711.1 411.4 1714.2 411.5 1717.3 411.1C1720.4 410.6 1723.4 410 1726.5 409.3C1729.6 408.7 1732.6 408.3 1735.7 407C1738.8 405.8 1741.9 403.6 1744.9 401.9C1748 400.1 1751.1 398.1 1754.2 396.7C1757.2 395.3 1760.3 394.2 1763.4 393.2C1766.4 392.3 1769.5 391.8 1772.6 390.9C1775.7 390.1 1778.7 388.7 1781.8 388.1C1784.9 387.4 1788 387.1 1791 386.9C1794.1 386.7 1797.2 386.8 1800.3 386.9C1803.3 387 1806.4 387.8 1809.5 387.5C1812.5 387.2 1815.6 386.1 1818.7 385.2C1821.8 384.3 1824.8 383.1 1827.9 382.3C1831 381.6 1834.1 381.3 1837.1 380.6C1840.2 379.9 1843.3 378.7 1846.3 378.3C1849.4 377.9 1852.5 377.8 1855.6 378.3C1858.6 378.8 1861.7 380.2 1864.8 381.2C1867.9 382.1 1870.9 383 1874 384C1877.1 385.1 1880.2 386.7 1883.2 387.5C1886.3 388.3 1889.4 388.4 1892.4 388.6C1895.5 388.9 1898.6 388.5 1901.7 389.2C1904.7 389.9 1907.8 391.5 1910.9 392.7C1914 393.8 1917 395 1920.1 396.1C1923.2 397.3 1926.3 398.3 1929.3 399.6C1932.4 400.8 1935.5 402.6 1938.5 403.6C1941.6 404.5 1944.7 404.6 1947.8 405.3C1950.8 406 1953.9 406.9 1957 407.6C1960.1 408.3 1963.1 408.5 1966.2 409.3C1969.3 410.2 1972.3 411.8 1975.4 412.8C1978.5 413.7 1981.6 414.4 1984.6 415.1C1987.7 415.8 1990.8 416.1 1993.9 416.8C1996.9 417.5 2000 418.4 2003.1 419.1C2006.2 419.8 2010.8 420.5 2012.3 420.8L2012.3 461.6C2010.8 461.3 2006.2 460.3 2003.1 459.3C2000 458.4 1996.9 457 1993.9 455.9C1990.8 454.7 1987.7 453.6 1984.6 452.4C1981.6 451.3 1978.5 450.3 1975.4 449C1972.3 447.6 1969.3 445.7 1966.2 444.4C1963.1 443.1 1960.1 442.1 1957 440.9C1953.9 439.8 1950.8 438.5 1947.8 437.5C1944.7 436.5 1941.6 436.3 1938.5 435.2C1935.5 434 1932.4 432.1 1929.3 430.6C1926.3 429.1 1923.2 427.4 1920.1 426C1917 424.6 1914 423.3 1910.9 422C1907.8 420.6 1904.7 419 1901.7 418C1898.6 416.9 1895.5 416.6 1892.4 415.7C1889.4 414.7 1886.3 413.5 1883.2 412.2C1880.2 410.9 1877.1 409 1874 407.6C1870.9 406.2 1867.9 404.8 1864.8 403.6C1861.7 402.3 1858.6 400.8 1855.6 400.1C1852.5 399.5 1849.4 399.6 1846.3 399.6C1843.3 399.6 1840.2 399.8 1837.1 400.1C1834.1 400.4 1831 400.8 1827.9 401.3C1824.8 401.8 1821.8 402.6 1818.7 403C1815.6 403.4 1812.5 403.9 1809.5 403.6C1806.4 403.3 1803.3 401.9 1800.3 401.3C1797.2 400.7 1794.1 400.1 1791 400.1C1788 400.1 1784.9 400.8 1781.8 401.3C1778.7 401.8 1775.7 402.4 1772.6 403C1769.5 403.6 1766.4 404 1763.4 404.7C1760.3 405.5 1757.2 406.4 1754.2 407.6C1751.1 408.9 1748 411 1744.9 412.2C1741.9 413.5 1738.8 414.4 1735.7 415.1C1732.6 415.8 1729.6 415.9 1726.5 416.2C1723.4 416.5 1720.4 416.5 1717.3 416.8C1714.2 417.1 1711.1 417.6 1708.1 418C1705 418.3 1701.9 418.7 1698.8 419.1C1695.8 419.5 1692.7 419.7 1689.6 420.3C1686.5 420.8 1681.9 422.2 1680.4 422.6Z" fill="#9bd5dc"/>
<path d="M1680.4 426C1681.9 426.2 1686.5 426.8 1689.6 427.1C1692.7 427.5 1695.8 427.9 1698.8 428.3C1701.9 428.7 1705 429.2 1708.1 429.4C1711.1 429.7 1714.2 429.9 1717.3 430C1720.4 430.1 1723.4 429.9 1726.5 430C1729.6 430.1 1732.6 430.5 1735.7 430.6C1738.8 430.7 1741.9 430.6 1744.9 430.6C1748 430.6 1751.1 430.6 1754.2 430.6C1757.2 430.6 1760.3 430.6 1763.4 430.6C1766.4 430.6 1769.5 430.6 1772.6 430.6C1775.7 430.6 1778.7 430.6 1781.8 430.6C1784.9 430.6 1788 430.6 1791 430.6C1794.1 430.6 1797.2 430.6 1800.3 430.6C1803.3 430.6 1806.4 430.6 1809.5 430.6C1812.5 430.6 1815.6 430.5 1818.7 430.6C1821.8 430.7 1824.8 430.8 1827.9 431.2C1831 431.6 1834.1 432.6 1837.1 432.9C1840.2 433.2 1843.3 432.8 1846.3 432.9C1849.4 433 1852.5 433.3 1855.6 433.5C1858.6 433.7 1861.7 434.1 1864.8 434C1867.9 434 1870.9 433.1 1874 432.9C1877.1 432.7 1880.2 433 1883.2 432.9C1886.3 432.8 1889.4 432.6 1892.4 432.3C1895.5 432 1898.6 431.5 1901.7 431.2C1904.7 430.9 1907.8 430.6 1910.9 430.6C1914 430.6 1917 430.8 1920.1 431.2C1923.2 431.6 1926.3 432.4 1929.3 432.9C1932.4 433.4 1935.5 433.9 1938.5 434C1941.6 434.2 1944.7 434 1947.8 434C1950.8 434.1 1953.9 434.4 1957 434.6C1960.1 434.8 1963.1 434.8 1966.2 435.2C1969.3 435.6 1972.3 436.3 1975.4 436.9C1978.5 437.5 1981.6 438 1984.6 438.6C1987.7 439.3 1990.8 440.3 1993.9 440.9C1996.9 441.6 2000 442 2003.1 442.7C2006.2 443.3 2010.8 444.6 2012.3 445L2012.3 495.5C2010.8 495.4 2006.2 494.8 2003.1 494.4C2000 494 1996.9 493.8 1993.9 493.2C1990.8 492.7 1987.7 491.6 1984.6 490.9C1981.6 490.3 1978.5 489.9 1975.4 489.2C1972.3 488.6 1969.3 487.6 1966.2 486.9C1963.1 486.3 1960.1 486 1957 485.2C1953.9 484.4 1950.8 483.3 1947.8 482.3C1944.7 481.4 1941.6 480.5 1938.5 479.5C1935.5 478.4 1932.4 477.2 1929.3 476C1926.3 474.8 1923.2 472.7 1920.1 472C1917 471.2 1914 471.6 1910.9 471.4C1907.8 471.2 1904.7 471.2 1901.7 470.8C1898.6 470.4 1895.5 469.7 1892.4 469.1C1889.4 468.5 1886.3 468 1883.2 467.4C1880.2 466.8 1877.1 466.2 1874 465.7C1870.9 465.1 1867.9 464.6 1864.8 463.9C1861.7 463.3 1858.6 462.2 1855.6 461.6C1852.5 461.1 1849.4 461 1846.3 460.5C1843.3 460 1840.2 459.4 1837.1 458.8C1834.1 458.1 1831 457.3 1827.9 456.5C1824.8 455.6 1821.8 454.5 1818.7 453.6C1815.6 452.6 1812.5 451.3 1809.5 450.7C1806.4 450.1 1803.3 450.5 1800.3 450.1C1797.2 449.8 1794.1 448.6 1791 448.4C1788 448.2 1784.9 449.3 1781.8 449C1778.7 448.7 1775.7 447.3 1772.6 446.7C1769.5 446.1 1766.4 446.2 1763.4 445.5C1760.3 444.9 1757.2 443.2 1754.2 442.7C1751.1 442.1 1748 442.5 1744.9 442.1C1741.9 441.7 1738.8 440.9 1735.7 440.4C1732.6 439.8 1729.6 439.1 1726.5 438.6C1723.4 438.2 1720.4 437.9 1717.3 437.5C1714.2 437.1 1711.1 436.8 1708.1 436.3C1705 435.9 1701.9 435.2 1698.8 434.6C1695.8 434 1692.7 433.6 1689.6 432.9C1686.5 432.2 1681.9 431 1680.4 430.6Z" fill="#fd9a82"/>
<path d="M1680.4 427.1C1681.9 427.3 1686.5 427.8 1689.6 428.3C1692.7 428.8 1695.8 429.5 1698.8 430C1701.9 430.5 1705 430.8 1708.1 431.2C1711.1 431.6 1714.2 432.2 1717.3 432.3C1720.4 432.4 1723.4 431.7 1726.5 431.7C1729.6 431.8 1732.6 432.5 1735.7 432.9C1738.8 433.3 1741.9 433.9 1744.9 434C1748 434.2 1751.1 433.9 1754.2 434C1757.2 434.2 1760.3 434.9 1763.4 435.2C1766.4 435.5 1769.5 435.6 1772.6 435.8C1775.7 436 1778.7 436.4 1781.8 436.3C1784.9 436.2 1788 435.3 1791 435.2C1794.1 435.1 1797.2 435.6 1800.3 435.8C1803.3 436 1806.4 436.1 1809.5 436.3C1812.5 436.6 1815.6 437.2 1818.7 437.5C1821.8 437.8 1824.8 437.8 1827.9 438.1C1831 438.4 1834.1 438.9 1837.1 439.2C1840.2 439.5 1843.3 439.6 1846.3 439.8C1849.4 440 1852.5 440.1 1855.6 440.4C1858.6 440.7 1861.7 441.5 1864.8 441.5C1867.9 441.5 1870.9 440.5 1874 440.4C1877.1 440.3 1880.2 440.8 1883.2 440.9C1886.3 441.1 1889.4 441.5 1892.4 441.5C1895.5 441.5 1898.6 441 1901.7 440.9C1904.7 440.8 1907.8 440.8 1910.9 440.9C1914 441 1917 441.1 1920.1 441.5C1923.2 441.9 1926.3 442.7 1929.3 443.2C1932.4 443.8 1935.5 444.5 1938.5 445C1941.6 445.4 1944.7 445.8 1947.8 446.1C1950.8 446.4 1953.9 446.4 1957 446.7C1960.1 447 1963.1 447.6 1966.2 447.8C1969.3 448.1 1972.3 448.2 1975.4 448.4C1978.5 448.6 1981.6 448.8 1984.6 449C1987.7 449.2 1990.8 449.4 1993.9 449.6C1996.9 449.8 2000 449.9 2003.1 450.1C2006.2 450.3 2010.8 450.6 2012.3 450.7L2012.3 480.6C2010.8 480.4 2006.2 479.8 2003.1 479.5C2000 479.1 1996.9 478.8 1993.9 478.3C1990.8 477.8 1987.7 477.1 1984.6 476.6C1981.6 476.1 1978.5 475.9 1975.4 475.4C1972.3 474.9 1969.3 474.3 1966.2 473.7C1963.1 473.1 1960.1 472.6 1957 472C1953.9 471.4 1950.8 470.9 1947.8 470.3C1944.7 469.6 1941.6 468.8 1938.5 468C1935.5 467.1 1932.4 466.1 1929.3 465.1C1926.3 464 1923.2 462.3 1920.1 461.6C1917 461 1914 461.3 1910.9 461.1C1907.8 460.9 1904.7 460.8 1901.7 460.5C1898.6 460.2 1895.5 459.8 1892.4 459.3C1889.4 458.9 1886.3 458.1 1883.2 457.6C1880.2 457.1 1877.1 456.7 1874 456.5C1870.9 456.2 1867.9 456.4 1864.8 455.9C1861.7 455.4 1858.6 454.1 1855.6 453.6C1852.5 453.1 1849.4 453.3 1846.3 453C1843.3 452.7 1840.2 452.2 1837.1 451.9C1834.1 451.5 1831 451.3 1827.9 450.7C1824.8 450.1 1821.8 449.2 1818.7 448.4C1815.6 447.6 1812.5 446.6 1809.5 446.1C1806.4 445.6 1803.3 445.8 1800.3 445.5C1797.2 445.3 1794.1 444.4 1791 444.4C1788 444.4 1784.9 445.6 1781.8 445.5C1778.7 445.4 1775.7 444.3 1772.6 443.8C1769.5 443.3 1766.4 443.2 1763.4 442.7C1760.3 442.1 1757.2 440.8 1754.2 440.4C1751.1 439.9 1748 440.3 1744.9 439.8C1741.9 439.3 1738.8 438.1 1735.7 437.5C1732.6 436.9 1729.6 436.4 1726.5 436.3C1723.4 436.2 1720.4 437 1717.3 436.9C1714.2 436.8 1711.1 436.3 1708.1 435.8C1705 435.2 1701.9 434.1 1698.8 433.5C1695.8 432.8 1692.7 432.4 1689.6 431.7C1686.5 431.1 1681.9 429.8 1680.4 429.4Z" fill="#f66b59"/>
</g>
<rect x="1680.3" y="421.8" width="375.7" height="8.4" fill="#fff"/>
<g clip-path="url(#c4)">
<path d="M1673 424.7C1674.3 424.3 1677.6 423 1680.4 422C1683.2 420.9 1686.5 419.4 1689.6 418.5C1692.7 417.7 1695.8 417.5 1698.8 416.8C1701.9 416.1 1705 415.1 1708.1 414.5C1711.1 413.9 1714.2 413.7 1717.3 413.4C1720.4 413 1723.4 412.8 1726.5 412.2C1729.6 411.6 1732.6 411 1735.7 409.9C1738.8 408.9 1741.9 407.2 1744.9 405.9C1748 404.5 1751.1 403 1754.2 401.9C1757.2 400.7 1760.3 399.8 1763.4 399C1766.4 398.1 1769.5 397.4 1772.6 396.7C1775.7 396 1778.7 395.4 1781.8 395C1784.9 394.5 1788 394 1791 393.8C1794.1 393.6 1797.2 393.5 1800.3 393.8C1803.3 394.1 1806.4 395.4 1809.5 395.5C1812.5 395.6 1815.6 395 1818.7 394.4C1821.8 393.8 1824.8 392.8 1827.9 392.1C1831 391.4 1834.1 390.9 1837.1 390.4C1840.2 389.8 1843.3 388.8 1846.3 388.6C1849.4 388.4 1852.5 388.7 1855.6 389.2C1858.6 389.7 1861.7 390.6 1864.8 391.5C1867.9 392.5 1870.9 393.7 1874 395C1877.1 396.2 1880.2 397.9 1883.2 399C1886.3 400 1889.4 400.5 1892.4 401.3C1895.5 402.1 1898.6 402.5 1901.7 403.6C1904.7 404.6 1907.8 406.3 1910.9 407.6C1914 408.9 1917 410.2 1920.1 411.6C1923.2 413.1 1926.3 414.7 1929.3 416.2C1932.4 417.8 1935.5 419.7 1938.5 420.8C1941.6 422 1944.7 422.3 1947.8 423.1C1950.8 424 1953.9 425 1957 426C1960.1 427 1963.1 427.8 1966.2 428.9C1969.3 429.9 1972.3 431.4 1975.4 432.3C1978.5 433.3 1981.6 433.8 1984.6 434.6C1987.7 435.5 1990.8 436.6 1993.9 437.5C1996.9 438.4 2000 439.1 2003.1 439.8C2006.2 440.5 2010.8 441.2 2012.3 441.5" fill="none" stroke="#0098a7" stroke-width="8.6" stroke-linejoin="round" stroke-linecap="butt"/>
<path d="M1673 426.9C1674.3 427.1 1677.6 427.8 1680.4 428.3C1683.2 428.8 1686.5 429.4 1689.6 430C1692.7 430.6 1695.8 431.2 1698.8 431.7C1701.9 432.3 1705 433 1708.1 433.5C1711.1 434 1714.2 434.5 1717.3 434.6C1720.4 434.7 1723.4 434 1726.5 434C1729.6 434.1 1732.6 434.7 1735.7 435.2C1738.8 435.7 1741.9 436.5 1744.9 436.9C1748 437.3 1751.1 437.1 1754.2 437.5C1757.2 437.9 1760.3 438.7 1763.4 439.2C1766.4 439.7 1769.5 440 1772.6 440.4C1775.7 440.8 1778.7 441.6 1781.8 441.5C1784.9 441.4 1788 439.9 1791 439.8C1794.1 439.7 1797.2 440.7 1800.3 440.9C1803.3 441.2 1806.4 441.1 1809.5 441.5C1812.5 441.9 1815.6 442.7 1818.7 443.2C1821.8 443.8 1824.8 444.5 1827.9 445C1831 445.4 1834.1 445.7 1837.1 446.1C1840.2 446.5 1843.3 447 1846.3 447.3C1849.4 447.6 1852.5 447.5 1855.6 447.8C1858.6 448.2 1861.7 449.4 1864.8 449.6C1867.9 449.8 1870.9 448.9 1874 449C1877.1 449.1 1880.2 449.9 1883.2 450.1C1886.3 450.4 1889.4 450.5 1892.4 450.7C1895.5 450.9 1898.6 451.2 1901.7 451.3C1904.7 451.4 1907.8 451.1 1910.9 451.3C1914 451.5 1917 451.9 1920.1 452.4C1923.2 453 1926.3 454 1929.3 454.7C1932.4 455.5 1935.5 456.4 1938.5 457C1941.6 457.7 1944.7 458.3 1947.8 458.8C1950.8 459.2 1953.9 459.5 1957 459.9C1960.1 460.3 1963.1 460.7 1966.2 461.1C1969.3 461.4 1972.3 461.8 1975.4 462.2C1978.5 462.6 1981.6 463.1 1984.6 463.4C1987.7 463.6 1990.8 463.6 1993.9 463.9C1996.9 464.2 2000 464.7 2003.1 465.1C2006.2 465.5 2010.8 466 2012.3 466.2" fill="none" stroke="#e22e33" stroke-width="8.6" stroke-linejoin="round" stroke-linecap="butt"/>
</g>
<rect x="1677.98" y="735.7" width="4.85" height="24.6" fill="#fff"/>
<rect x="1733.3" y="735.7" width="4.85" height="24.6" fill="#fff"/>
<rect x="1788.61" y="735.7" width="4.85" height="24.6" fill="#fff"/>
<rect x="1843.93" y="735.7" width="4.85" height="24.6" fill="#fff"/>
<rect x="1899.25" y="735.7" width="4.85" height="24.6" fill="#fff"/>
<rect x="1954.56" y="735.7" width="4.85" height="24.6" fill="#fff"/>
<rect x="2009.88" y="735.7" width="4.85" height="24.6" fill="#fff"/>
</g>
<g id="p5">
<rect x="77.1" y="1005.2" width="373.1" height="4.9" fill="#fff"/>
<rect x="77.1" y="1055.9" width="373.1" height="4.9" fill="#fff"/>
<rect x="77.1" y="1106.7" width="373.1" height="4.9" fill="#fff"/>
<rect x="77.1" y="1157.4" width="373.1" height="4.9" fill="#fff"/>
<rect x="77.1" y="1258.8" width="373.1" height="4.9" fill="#fff"/>
<rect x="77.1" y="1309.5" width="373.1" height="4.9" fill="#fff"/>
<rect x="77.1" y="1360.3" width="373.1" height="4.9" fill="#fff"/>
<rect x="77.1" y="1411" width="373.1" height="4.9" fill="#fff"/>
<clipPath id="c5"><rect x="77.2" y="0" width="500" height="1654"/></clipPath>
<g clip-path="url(#c5)">
<path d="M77.2 1195.3L87.6 1185.2L98 1164.9L108.3 1148.2L118.7 1173L129 1164.9L139.4 1170L149.7 1139.5L160.1 1144.6L170.4 1175L180.8 1154.8L191.2 1185.2L201.5 1154.8L211.9 1149.7L222.2 1137L232.6 1138L242.9 1113.2L253.3 1132.9L263.6 1149.2L274 1095.2L284.4 1117.7L294.7 1096.4L305.1 1117.2L315.4 1061.4L325.8 1074.6L336.1 1084.8L346.5 1075.9L356.9 1110.4L367.2 1055.3L377.6 1066.5L387.9 1064L398.3 1059.4L408.6 1034.6L419 1028.7L429.3 1074.6L439.7 1062.4L450.1 1054.6L450.1 1200.4L439.7 1200.4L429.3 1210.5L419 1170L408.6 1175L398.3 1190.3L387.9 1190.3L377.6 1190.3L367.2 1185.2L356.9 1225.8L346.5 1205.5L336.1 1210.5L325.8 1208.5L315.4 1175L305.1 1257.5L294.7 1224.8L284.4 1249.6L274 1223.2L263.6 1254.9L253.3 1235.9L242.9 1225.8L232.6 1241L222.2 1235.9L211.9 1241.5L201.5 1253.4L191.2 1283.3L180.8 1248.8L170.4 1271.4L160.1 1245.5L149.7 1229.6L139.4 1270.9L129 1250.9L118.7 1272.7L108.3 1233.4L98 1234.9L87.6 1245.5L77.2 1246.1Z" fill="#b6b5b3"/>
<path d="M77.2 1205.5L87.6 1197.9L98 1180.1L108.3 1167.4L118.7 1198.9L129 1185.2L139.4 1194.3L149.7 1162.4L160.1 1167.4L170.4 1200.4L180.8 1180.1L191.2 1210.5L201.5 1180.1L211.9 1170L222.2 1158.8L232.6 1162.4L242.9 1142.1L253.3 1158.8L263.6 1170L274 1127.1L284.4 1149.7L294.7 1128.4L305.1 1153L315.4 1087.8L325.8 1106.6L336.1 1114.7L346.5 1107.6L356.9 1137.8L367.2 1086.5L377.6 1096.4L387.9 1094.9L398.3 1092.1L408.6 1069.3L419 1062.4L429.3 1107.1L439.7 1095.9L450.1 1090.3L450.1 1162.4L439.7 1167.4L429.3 1170L419 1139.5L408.6 1134.5L398.3 1154.8L387.9 1154.8L377.6 1154.8L367.2 1154.3L356.9 1195.3L346.5 1175L336.1 1175L325.8 1176.3L315.4 1149.7L305.1 1215.6L294.7 1190.3L284.4 1210.5L274 1187.7L263.6 1220.7L253.3 1208L242.9 1195.3L232.6 1210.5L222.2 1205.5L211.9 1220.2L201.5 1228.3L191.2 1259.5L180.8 1223L170.4 1246.8L160.1 1215.1L149.7 1210.5L139.4 1245.5L129 1229.6L118.7 1248.1L108.3 1210.5L98 1212.1L87.6 1225.8L77.2 1230.8Z" fill="#9bd5dc"/>
<path d="M77.2 1177.1L87.6 1166.4L98 1132.4L108.3 1162.9L118.7 1119.8L129 1144.4L139.4 1132.9L149.7 1132.4L160.1 1123.1L170.4 1151L180.8 1139L191.2 1101.8L201.5 1137L211.9 1135L222.2 1158.8L232.6 1181.6L242.9 1158.8L253.3 1160.3L263.6 1151L274 1195.3L284.4 1160.8L294.7 1175.6L305.1 1170.5L315.4 1148.2L325.8 1190.3L336.1 1173L346.5 1174.3L356.9 1164.9L367.2 1164.9L377.6 1133.7L387.9 1145.6L398.3 1147.1L408.6 1115.7L419 1137L429.3 1150.2L439.7 1177.6L450.1 1146.1L450.1 1243L439.7 1259.5L429.3 1243L419 1226.8L408.6 1210.5L398.3 1232.9L387.9 1242.2L377.6 1221.7L367.2 1251.6L356.9 1240.2L346.5 1246.8L336.1 1254.7L325.8 1274L315.4 1225.8L305.1 1240.2L294.7 1262.8L284.4 1236.2L274 1284.1L263.6 1241L253.3 1250.9L242.9 1234.1L232.6 1256.2L222.2 1252.1L211.9 1226.8L201.5 1221.7L191.2 1200.9L180.8 1217.7L170.4 1238.2L160.1 1206.5L149.7 1205.5L139.4 1194.8L129 1221.7L118.7 1188.2L108.3 1228.8L98 1205.5L87.6 1215.6L77.2 1232.4Z" fill="#fd9a82"/>
<path d="M77.2 1188.7L87.6 1178.1L98 1148.2L108.3 1178.1L118.7 1136.5L129 1162.9L139.4 1148.2L149.7 1151.7L160.1 1144.4L170.4 1173L180.8 1160.3L191.2 1125.8L201.5 1158.3L211.9 1157.8L222.2 1182.1L232.6 1198.4L242.9 1178.1L253.3 1182.9L263.6 1173L274 1213.1L284.4 1178.1L294.7 1196.9L305.1 1186.2L315.4 1168.5L325.8 1203.4L336.1 1193.6L346.5 1192.8L356.9 1179.1L367.2 1186.2L377.6 1155.8L387.9 1169.5L398.3 1168.5L408.6 1137.8L419 1158.8L429.3 1173L439.7 1195.3L450.1 1171L450.1 1221.7L439.7 1239L429.3 1220.2L419 1204.5L408.6 1185.7L398.3 1209.5L387.9 1217.7L377.6 1201.7L367.2 1230.3L356.9 1218.9L346.5 1228.8L336.1 1234.9L325.8 1252.9L315.4 1208.3L305.1 1223L294.7 1240.5L284.4 1217.9L274 1265.3L263.6 1217.7L253.3 1228.6L242.9 1215.6L232.6 1236.9L222.2 1227.5L211.9 1205L201.5 1200.9L191.2 1175.6L180.8 1199.4L170.4 1215.6L160.1 1188.7L149.7 1193.6L139.4 1182.9L129 1200.9L118.7 1174.3L108.3 1215.1L98 1183.7L87.6 1196.9L77.2 1217.7Z" fill="#f66b59"/>
</g>
<rect x="77.2" y="1206.3" width="375.5" height="8.4" fill="#fff"/>
<g clip-path="url(#c5)">
<path d="M69 1217.5L77.2 1214.1L87.6 1209.8L98 1195.3L108.3 1189.8L118.7 1222.7L129 1207.8L139.4 1219.2L149.7 1183.9L160.1 1190L170.4 1222.7L180.8 1202.7L191.2 1233.4L201.5 1203.4L211.9 1193.3L222.2 1182.4L232.6 1187.2L242.9 1171.7L253.3 1183.4L263.6 1195.3L274 1159.3L284.4 1183.9L294.7 1160.8L305.1 1188L315.4 1115.2L325.8 1141.8L336.1 1146.1L346.5 1140L356.9 1166.9L367.2 1119.8L377.6 1126.4L387.9 1125.8L398.3 1125.8L408.6 1105.1L419 1098L429.3 1141.6L439.7 1131.7L450.1 1127.9" fill="none" stroke="#0098a7" stroke-width="8.6" stroke-linejoin="round" stroke-linecap="butt"/>
<path d="M69 1212.7L77.2 1200.9L87.6 1186.2L98 1165.9L108.3 1195.3L118.7 1154.3L129 1181.9L139.4 1164.4L149.7 1170.7L160.1 1165.7L170.4 1194.1L180.8 1179.9L191.2 1152L201.5 1179.6L211.9 1181.6L222.2 1205L232.6 1217.7L242.9 1196.6L253.3 1205.5L263.6 1195.1L274 1245.8L284.4 1198.1L294.7 1218.9L305.1 1202.2L315.4 1187.5L325.8 1232.6L336.1 1214.6L346.5 1211.1L356.9 1196.6L367.2 1208.3L377.6 1177.3L387.9 1193.3L398.3 1188.5L408.6 1160.8L419 1181.6L429.3 1196.9L439.7 1218.2L450.1 1197.9" fill="none" stroke="#e22e33" stroke-width="8.6" stroke-linejoin="round" stroke-linecap="butt"/>
</g>
<rect x="74.83" y="1435.7" width="4.85" height="24.6" fill="#fff"/>
<rect x="136.96" y="1435.7" width="4.85" height="24.6" fill="#fff"/>
<rect x="199.1" y="1435.7" width="4.85" height="24.6" fill="#fff"/>
<rect x="261.23" y="1435.7" width="4.85" height="24.6" fill="#fff"/>
<rect x="323.36" y="1435.7" width="4.85" height="24.6" fill="#fff"/>
<rect x="385.5" y="1435.7" width="4.85" height="24.6" fill="#fff"/>
<rect x="447.63" y="1435.7" width="4.85" height="24.6" fill="#fff"/>
</g>
<g id="p6">
<rect x="599.6" y="1005.2" width="373" height="4.9" fill="#fff"/>
<rect x="599.6" y="1072.8" width="373" height="4.9" fill="#fff"/>
<rect x="599.6" y="1140.5" width="373" height="4.9" fill="#fff"/>
<rect x="599.6" y="1275.7" width="373" height="4.9" fill="#fff"/>
<rect x="599.6" y="1343.4" width="373" height="4.9" fill="#fff"/>
<rect x="599.6" y="1411" width="373" height="4.9" fill="#fff"/>
<clipPath id="c6"><rect x="599.8" y="0" width="500" height="1654"/></clipPath>
<g clip-path="url(#c6)">
<path d="M599.8 1213.9L610.1 1206.5L620.5 1201.1L630.8 1195.3L641.2 1192.3L651.5 1190.3L661.9 1188.6L672.2 1183.8L682.6 1179.4L692.9 1178.8L703.3 1173.4L713.6 1167.9L724 1163.9L734.3 1156.4L744.7 1155.1L755 1150.4L765.4 1144.6L775.7 1149.7L786.1 1138.5L796.4 1139.2L806.8 1137.5L817.1 1139.5L827.5 1142.9L837.8 1136.2L848.2 1132.8L858.5 1130.1L868.9 1123L879.2 1126.7L889.6 1126L899.9 1122.6L910.3 1119.2L920.6 1115.9L931 1111.1L941.3 1112.5L951.7 1105.7L962 1093.2L972.4 1086.8L972.4 1279.2L962 1281.2L951.7 1286.3L941.3 1291.4L931 1286.6L920.6 1286.3L910.3 1288.7L899.9 1294.7L889.6 1289L879.2 1287.6L868.9 1286L858.5 1286.3L848.2 1287L837.8 1288.3L827.5 1286.3L817.1 1282.2L806.8 1280.2L796.4 1275.5L786.1 1274.1L775.7 1277.2L765.4 1273.8L755 1270.1L744.7 1266L734.3 1268L724 1273.1L713.6 1269.4L703.3 1263.3L692.9 1258.6L682.6 1253.2L672.2 1252.5L661.9 1243.4L651.5 1242.7L641.2 1235.9L630.8 1235.9L620.5 1227.1L610.1 1221.4L599.8 1217.3Z" fill="#b6b5b3"/>
<path d="M599.8 1213.9L610.1 1210.5L620.5 1209.2L630.8 1207.2L641.2 1203.8L651.5 1203.8L661.9 1203.8L672.2 1203.8L682.6 1200.4L692.9 1200.4L703.3 1197L713.6 1195.7L724 1193.6L734.3 1186.9L744.7 1184.9L755 1182.1L765.4 1180.1L775.7 1183.5L786.1 1175.4L796.4 1175.4L806.8 1175.4L817.1 1176.7L827.5 1178.8L837.8 1178.1L848.2 1175.4L858.5 1171.3L868.9 1168.6L879.2 1170L889.6 1170L899.9 1172L910.3 1166.6L920.6 1161.9L931 1159.2L941.3 1161.9L951.7 1155.1L962 1146.3L972.4 1140.9L972.4 1232.2L962 1235.2L951.7 1241.3L941.3 1247.1L931 1244L920.6 1244.7L910.3 1247.7L899.9 1253.8L889.6 1249.1L879.2 1248.4L868.9 1246.4L858.5 1247.4L848.2 1249.1L837.8 1251.8L827.5 1250.5L817.1 1246.1L806.8 1244.7L796.4 1242.7L786.1 1241.7L775.7 1245.7L765.4 1242.3L755 1240.6L744.7 1239.3L734.3 1240.3L724 1246.4L713.6 1244L703.3 1241.3L692.9 1239L682.6 1235.2L672.2 1235.9L661.9 1229.8L651.5 1228.5L641.2 1225.1L630.8 1225.8L620.5 1221.4L610.1 1219.3L599.8 1217.3Z" fill="#9bd5dc"/>
<path d="M599.8 1211.9L610.1 1210.5L620.5 1208.5L630.8 1196L641.2 1192L651.5 1186.5L661.9 1189.2L672.2 1195L682.6 1186.5L692.9 1185.2L703.3 1178.1L713.6 1176.7L724 1170.6L734.3 1167.3L744.7 1164.2L755 1154.1L765.4 1156.4L775.7 1149.7L786.1 1146L796.4 1141.9L806.8 1137.8L817.1 1138.2L827.5 1139.9L837.8 1134.1L848.2 1130.4L858.5 1128.4L868.9 1123.6L879.2 1128.4L889.6 1123.3L899.9 1120.3L910.3 1116.9L920.6 1113.2L931 1113.2L941.3 1110.5L951.7 1104.7L962 1100L972.4 1094.9L972.4 1224.4L962 1223.7L951.7 1224.8L941.3 1226.4L931 1223.7L920.6 1219L910.3 1219.3L899.9 1220.7L889.6 1220.4L879.2 1220.7L868.9 1216.6L858.5 1217.7L848.2 1216.6L837.8 1214.6L827.5 1214.6L817.1 1212.6L806.8 1211.9L796.4 1212.6L786.1 1216L775.7 1214.6L765.4 1216L755 1209.2L744.7 1212.6L734.3 1212.6L724 1212.6L713.6 1212.6L703.3 1212.6L692.9 1212.6L682.6 1213.9L672.2 1222.7L661.9 1212.6L651.5 1210.5L641.2 1213.9L630.8 1217.3L620.5 1224.1L610.1 1220.7L599.8 1218.7Z" fill="#fd9a82"/>
<path d="M599.8 1213.9L610.1 1212.6L620.5 1211.9L630.8 1201.1L641.2 1198.4L651.5 1193.6L661.9 1196.3L672.2 1202.4L682.6 1194.7L692.9 1194L703.3 1187.6L713.6 1187.2L724 1182.5L734.3 1179.4L744.7 1176.4L755 1168.6L765.4 1171.3L775.7 1166.6L786.1 1163.9L796.4 1159.2L806.8 1156.4L817.1 1156.4L827.5 1159.2L837.8 1155.4L848.2 1152.4L858.5 1151L868.9 1147L879.2 1151L889.6 1147.3L899.9 1145.3L910.3 1142.6L920.6 1139.2L931 1140.9L941.3 1139.2L951.7 1135.1L962 1130.7L972.4 1126.4L972.4 1191.6L962 1193.3L951.7 1194.7L941.3 1197.7L931 1195.7L920.6 1192.6L910.3 1194.3L899.9 1196L889.6 1196.3L879.2 1198L868.9 1194L858.5 1195.3L848.2 1195.3L837.8 1197.7L827.5 1198L817.1 1193.6L806.8 1193.3L796.4 1193.6L786.1 1198L775.7 1198L765.4 1198L755 1193.6L744.7 1198.4L734.3 1199.1L724 1199.7L713.6 1201.8L703.3 1201.1L692.9 1208.5L682.6 1209.2L672.2 1213.9L661.9 1207.8L651.5 1204.5L641.2 1208.5L630.8 1210.5L620.5 1217.3L610.1 1216.6L599.8 1217.3Z" fill="#f66b59"/>
</g>
<rect x="599.6" y="1206.3" width="375.4" height="8.4" fill="#fff"/>
<g clip-path="url(#c6)">
<path d="M591.5 1217.2L599.8 1216.6L610.1 1216L620.5 1215.3L630.8 1215.3L641.2 1213.6L651.5 1214.6L661.9 1216L672.2 1218.7L682.6 1216.3L692.9 1218.7L703.3 1218L713.6 1218L724 1218.7L734.3 1211.9L744.7 1210.9L755 1210.5L765.4 1209.2L775.7 1213.9L786.1 1206.2L796.4 1207.2L806.8 1208.5L817.1 1209.9L827.5 1213.3L837.8 1214.3L848.2 1210.9L858.5 1206.5L868.9 1204.1L879.2 1206.5L889.6 1207.2L899.9 1211.6L910.3 1205.1L920.6 1200.4L931 1198.4L941.3 1202.4L951.7 1195.3L962 1187.2L972.4 1183.2" fill="none" stroke="#0098a7" stroke-width="8.6" stroke-linejoin="round" stroke-linecap="butt"/>
<path d="M591.5 1217L599.8 1216L610.1 1214.6L620.5 1214.6L630.8 1205.8L641.2 1203.8L651.5 1199.1L661.9 1202.4L672.2 1208.5L682.6 1202.4L692.9 1201.8L703.3 1196.3L713.6 1197L724 1193.3L734.3 1190.6L744.7 1188.6L755 1182.5L765.4 1186.5L775.7 1183.2L786.1 1181.1L796.4 1176.7L806.8 1175L817.1 1175L827.5 1178.4L837.8 1176.1L848.2 1173.4L858.5 1172.7L868.9 1170L879.2 1174.7L889.6 1171.3L899.9 1169.6L910.3 1167.3L920.6 1164.9L931 1167.9L941.3 1168.3L951.7 1164.9L962 1161.5L972.4 1159.2" fill="none" stroke="#e22e33" stroke-width="8.6" stroke-linejoin="round" stroke-linecap="butt"/>
</g>
<rect x="597.33" y="1435.7" width="4.85" height="24.6" fill="#fff"/>
<rect x="659.44" y="1435.7" width="4.85" height="24.6" fill="#fff"/>
<rect x="721.55" y="1435.7" width="4.85" height="24.6" fill="#fff"/>
<rect x="783.66" y="1435.7" width="4.85" height="24.6" fill="#fff"/>
<rect x="845.76" y="1435.7" width="4.85" height="24.6" fill="#fff"/>
<rect x="907.87" y="1435.7" width="4.85" height="24.6" fill="#fff"/>
<rect x="969.98" y="1435.7" width="4.85" height="24.6" fill="#fff"/>
</g>
<g id="p7">
<rect x="1134.8" y="1005.1" width="373.1" height="4.9" fill="#fff"/>
<rect x="1134.8" y="1072.8" width="373.1" height="4.9" fill="#fff"/>
<rect x="1134.8" y="1140.4" width="373.1" height="4.9" fill="#fff"/>
<rect x="1134.8" y="1208.1" width="373.1" height="4.9" fill="#fff"/>
<rect x="1134.8" y="1275.7" width="373.1" height="4.9" fill="#fff"/>
<rect x="1134.8" y="1411" width="373.1" height="4.9" fill="#fff"/>
<clipPath id="c7"><rect x="1135" y="0" width="500" height="1654"/></clipPath>
<g clip-path="url(#c7)">
<path d="M1135 1339C1136.7 1337.9 1141.9 1336.2 1145.4 1332.4C1148.8 1328.7 1152.3 1321 1155.7 1316.4C1159.2 1311.7 1162.6 1307.7 1166.1 1304.5C1169.5 1301.4 1173 1299.1 1176.4 1297.4C1179.9 1295.7 1183.3 1295.4 1186.8 1294.4C1190.2 1293.4 1193.7 1292.4 1197.1 1291.2C1200.6 1290 1204 1289.3 1207.5 1287.1C1210.9 1284.9 1214.4 1280.5 1217.8 1277.8C1221.3 1275.1 1224.7 1272.9 1228.2 1271.1C1231.6 1269.2 1235.1 1268 1238.5 1266.8C1242 1265.7 1245.4 1265.1 1248.9 1264.1C1252.3 1263.2 1255.8 1262.9 1259.2 1261.1C1262.7 1259.3 1266.2 1256.1 1269.6 1253.5C1273.1 1250.8 1276.5 1247.9 1280 1245.2C1283.4 1242.5 1286.9 1239.6 1290.3 1237.1C1293.8 1234.5 1297.2 1232.2 1300.7 1229.8C1304.1 1227.4 1307.6 1224.8 1311 1222.5C1314.5 1220.3 1317.9 1218.4 1321.4 1216.3C1324.8 1214.1 1328.3 1212.2 1331.7 1209.5C1335.2 1206.9 1338.6 1203 1342.1 1200.4C1345.5 1197.7 1349 1195.6 1352.4 1193.6C1355.9 1191.6 1359.3 1189.9 1362.8 1188.5C1366.2 1187.1 1369.7 1186.5 1373.1 1185.2C1376.6 1183.9 1380 1182.9 1383.5 1180.8C1387 1178.6 1390.4 1175.7 1393.9 1172.5C1397.3 1169.3 1400.8 1165.5 1404.2 1161.5C1407.7 1157.5 1411.1 1152.7 1414.6 1148.5C1418 1144.2 1421.5 1139.6 1424.9 1135.8C1428.4 1132 1431.8 1129.2 1435.3 1125.8C1438.7 1122.4 1442.2 1118.7 1445.6 1115.1C1449.1 1111.6 1452.5 1108.5 1456 1104.5C1459.4 1100.5 1462.9 1095.7 1466.3 1091.1C1469.8 1086.6 1473.2 1081.3 1476.7 1077.1C1480.1 1072.9 1483.6 1068.8 1487 1065.8C1490.5 1062.8 1493.9 1061.2 1497.4 1059.2C1500.8 1057.1 1506 1054.4 1507.8 1053.4L1507.8 1312C1506 1312.8 1500.8 1315.1 1497.4 1317.1C1493.9 1319 1490.5 1321.6 1487 1323.8C1483.6 1326.1 1480.1 1328.7 1476.7 1330.6C1473.2 1332.5 1469.8 1333.4 1466.3 1335.3C1462.9 1337.2 1459.4 1339.9 1456 1341.9C1452.5 1343.9 1449.1 1345.8 1445.6 1347.5C1442.2 1349.2 1438.7 1350.5 1435.3 1351.9C1431.8 1353.2 1428.4 1354.3 1424.9 1355.6C1421.5 1356.9 1418 1358.3 1414.6 1359.7C1411.1 1361 1407.7 1362.5 1404.2 1363.9C1400.8 1365.2 1397.3 1366.9 1393.9 1367.8C1390.4 1368.7 1387 1369 1383.5 1369.1C1380 1369.2 1376.6 1369 1373.1 1368.5C1369.7 1367.9 1366.2 1366.8 1362.8 1365.8C1359.3 1364.7 1355.9 1363.2 1352.4 1362C1349 1360.9 1345.5 1359.8 1342.1 1359C1338.6 1358.2 1335.2 1357.7 1331.7 1357.5C1328.3 1357.2 1324.8 1357.3 1321.4 1357.5C1317.9 1357.6 1314.5 1358.1 1311 1358.3C1307.6 1358.6 1304.1 1358.9 1300.7 1359C1297.2 1359 1293.8 1359 1290.3 1358.7C1286.9 1358.3 1283.4 1358 1280 1357.1C1276.5 1356.3 1273.1 1354.7 1269.6 1353.4C1266.2 1352.1 1262.7 1350.7 1259.2 1349.2C1255.8 1347.6 1252.3 1345 1248.9 1344.1C1245.4 1343.3 1242 1344.1 1238.5 1344.1C1235.1 1344.1 1231.6 1344.1 1228.2 1344.1C1224.7 1344.1 1221.3 1344.1 1217.8 1344.1C1214.4 1344.1 1210.9 1344.4 1207.5 1344.1C1204 1343.8 1200.6 1342.7 1197.1 1342.4C1193.7 1342.1 1190.2 1342.4 1186.8 1342.4C1183.3 1342.4 1179.9 1342.4 1176.4 1342.4C1173 1342.4 1169.5 1342.7 1166.1 1342.4C1162.6 1342.1 1159.2 1340.7 1155.7 1340.7C1152.3 1340.7 1148.8 1341.9 1145.4 1342.4C1141.9 1343 1136.7 1343.8 1135 1344.1Z" fill="#b6b5b3"/>
<path d="M1135 1340.1C1136.7 1339 1141.9 1337.1 1145.4 1334C1148.8 1330.9 1152.3 1325.1 1155.7 1321.4C1159.2 1317.8 1162.6 1314.3 1166.1 1311.8C1169.5 1309.3 1173 1307.6 1176.4 1306.4C1179.9 1305.2 1183.3 1305.1 1186.8 1304.5C1190.2 1304 1193.7 1303.8 1197.1 1303.2C1200.6 1302.6 1204 1302.5 1207.5 1301.2C1210.9 1299.8 1214.4 1297 1217.8 1295.1C1221.3 1293.1 1224.7 1290.9 1228.2 1289.3C1231.6 1287.7 1235.1 1286.4 1238.5 1285.6C1242 1284.8 1245.4 1285 1248.9 1284.6C1252.3 1284.2 1255.8 1284 1259.2 1283.2C1262.7 1282.4 1266.2 1281.3 1269.6 1279.9C1273.1 1278.4 1276.5 1276.7 1280 1274.8C1283.4 1272.9 1286.9 1270.4 1290.3 1268.4C1293.8 1266.3 1297.2 1264.4 1300.7 1262.6C1304.1 1260.8 1307.6 1259.2 1311 1257.5C1314.5 1255.8 1317.9 1254.2 1321.4 1252.5C1324.8 1250.7 1328.3 1249.1 1331.7 1247C1335.2 1245 1338.6 1242.2 1342.1 1240.3C1345.5 1238.4 1349 1236.8 1352.4 1235.5C1355.9 1234.3 1359.3 1233.3 1362.8 1232.5C1366.2 1231.7 1369.7 1231.5 1373.1 1230.8C1376.6 1230.1 1380 1229.6 1383.5 1228.1C1387 1226.6 1390.4 1224.2 1393.9 1221.7C1397.3 1219.1 1400.8 1216.3 1404.2 1212.9C1407.7 1209.5 1411.1 1205.1 1414.6 1201.4C1418 1197.7 1421.5 1194.2 1424.9 1190.9C1428.4 1187.6 1431.8 1184.8 1435.3 1181.8C1438.7 1178.7 1442.2 1175.9 1445.6 1172.6C1449.1 1169.4 1452.5 1166 1456 1162.5C1459.4 1159 1462.9 1155.5 1466.3 1151.7C1469.8 1147.8 1473.2 1143.2 1476.7 1139.5C1480.1 1135.8 1483.6 1132.3 1487 1129.7C1490.5 1127.1 1493.9 1125.5 1497.4 1123.8C1500.8 1122.1 1506 1120.2 1507.8 1119.5L1507.8 1249.8C1506 1250.4 1500.8 1251.9 1497.4 1253.5C1493.9 1255 1490.5 1256.9 1487 1258.9C1483.6 1260.9 1480.1 1263.2 1476.7 1265.5C1473.2 1267.8 1469.8 1270 1466.3 1272.6C1462.9 1275.2 1459.4 1278.5 1456 1281.2C1452.5 1283.9 1449.1 1286.5 1445.6 1288.8C1442.2 1291.1 1438.7 1293.1 1435.3 1295.1C1431.8 1297.1 1428.4 1298.8 1424.9 1300.8C1421.5 1302.8 1418 1304.9 1414.6 1307.1C1411.1 1309.3 1407.7 1312 1404.2 1314C1400.8 1316 1397.3 1317.9 1393.9 1319.3C1390.4 1320.6 1387 1321.6 1383.5 1322.1C1380 1322.7 1376.6 1322.8 1373.1 1322.6C1369.7 1322.5 1366.2 1321.6 1362.8 1321.1C1359.3 1320.6 1355.9 1320 1352.4 1319.8C1349 1319.5 1345.5 1319.4 1342.1 1319.6C1338.6 1319.8 1335.2 1320.2 1331.7 1320.8C1328.3 1321.4 1324.8 1322.4 1321.4 1323.1C1317.9 1323.9 1314.5 1324.8 1311 1325.5C1307.6 1326.2 1304.1 1326.6 1300.7 1327.2C1297.2 1327.8 1293.8 1328.3 1290.3 1328.9C1286.9 1329.5 1283.4 1330.4 1280 1330.6C1276.5 1330.7 1273.1 1330.3 1269.6 1329.7C1266.2 1329.2 1262.7 1327.9 1259.2 1327.2C1255.8 1326.5 1252.3 1326 1248.9 1325.5C1245.4 1325.1 1242 1324.4 1238.5 1324.5C1235.1 1324.5 1231.6 1325.2 1228.2 1325.8C1224.7 1326.5 1221.3 1327.5 1217.8 1328.2C1214.4 1328.9 1210.9 1329.8 1207.5 1329.9C1204 1330 1200.6 1329.1 1197.1 1328.9C1193.7 1328.7 1190.2 1328.8 1186.8 1328.9C1183.3 1328.9 1179.9 1328.8 1176.4 1329.2C1173 1329.6 1169.5 1330.5 1166.1 1331.3C1162.6 1332 1159.2 1332.7 1155.7 1334C1152.3 1335.3 1148.8 1337.6 1145.4 1339C1141.9 1340.4 1136.7 1341.9 1135 1342.4Z" fill="#cdeef2"/>
<path d="M1135 1342.4C1136.7 1342.1 1141.9 1341.9 1145.4 1340.7C1148.8 1339.6 1152.3 1338.2 1155.7 1335.7C1159.2 1333.1 1162.6 1328.9 1166.1 1325.5C1169.5 1322.1 1173 1318.6 1176.4 1315.4C1179.9 1312.1 1183.3 1308.5 1186.8 1305.9C1190.2 1303.3 1193.7 1301.8 1197.1 1299.8C1200.6 1297.8 1204 1295.7 1207.5 1293.7C1210.9 1291.7 1214.4 1289.9 1217.8 1287.8C1221.3 1285.7 1224.7 1283.3 1228.2 1281.2C1231.6 1279.1 1235.1 1277.1 1238.5 1275.1C1242 1273.1 1245.4 1271 1248.9 1269C1252.3 1267 1255.8 1265.2 1259.2 1263.1C1262.7 1261 1266.2 1258.9 1269.6 1256.5C1273.1 1254.2 1276.5 1251.5 1280 1249.1C1283.4 1246.6 1286.9 1244.1 1290.3 1241.8C1293.8 1239.5 1297.2 1237.2 1300.7 1235.2C1304.1 1233.2 1307.6 1231.6 1311 1229.8C1314.5 1228 1317.9 1226.2 1321.4 1224.4C1324.8 1222.6 1328.3 1221 1331.7 1218.8C1335.2 1216.6 1338.6 1213.9 1342.1 1211.4C1345.5 1208.9 1349 1206.2 1352.4 1203.8C1355.9 1201.3 1359.3 1198.5 1362.8 1196.5C1366.2 1194.4 1369.7 1192.7 1373.1 1191.4C1376.6 1190.1 1380 1189.6 1383.5 1188.9C1387 1188.2 1390.4 1187.7 1393.9 1187.2C1397.3 1186.6 1400.8 1186.4 1404.2 1185.5C1407.7 1184.6 1411.1 1183.3 1414.6 1181.8C1418 1180.3 1421.5 1178.3 1424.9 1176.4C1428.4 1174.5 1431.8 1172.4 1435.3 1170.4C1438.7 1168.4 1442.2 1166.4 1445.6 1164.4C1449.1 1162.4 1452.5 1160.6 1456 1158.4C1459.4 1156.3 1462.9 1154 1466.3 1151.7C1469.8 1149.3 1473.2 1146.7 1476.7 1144.4C1480.1 1142.1 1483.6 1139.8 1487 1137.8C1490.5 1135.8 1493.9 1134.1 1497.4 1132.4C1500.8 1130.7 1506 1128.6 1507.8 1127.8L1507.8 1325.5C1506 1325.6 1500.8 1325.8 1497.4 1326.2C1493.9 1326.6 1490.5 1327.3 1487 1327.9C1483.6 1328.5 1480.1 1329.3 1476.7 1329.9C1473.2 1330.5 1469.8 1331 1466.3 1331.3C1462.9 1331.5 1459.4 1331.5 1456 1331.6C1452.5 1331.7 1449.1 1331.6 1445.6 1331.9C1442.2 1332.2 1438.7 1332.8 1435.3 1333.5C1431.8 1334.2 1428.4 1335.4 1424.9 1336.2C1421.5 1336.9 1418 1337.7 1414.6 1337.9C1411.1 1338 1407.7 1337.3 1404.2 1336.8C1400.8 1336.3 1397.3 1335.4 1393.9 1334.8C1390.4 1334.2 1387 1333.7 1383.5 1333.5C1380 1333.3 1376.6 1333.4 1373.1 1333.6C1369.7 1333.9 1366.2 1334.5 1362.8 1335C1359.3 1335.5 1355.9 1336.1 1352.4 1336.5C1349 1336.9 1345.5 1337.1 1342.1 1337.3C1338.6 1337.6 1335.2 1337.8 1331.7 1338C1328.3 1338.3 1324.8 1338.6 1321.4 1338.9C1317.9 1339.1 1314.5 1339.2 1311 1339.4C1307.6 1339.5 1304.1 1339.7 1300.7 1339.7C1297.2 1339.7 1293.8 1339.6 1290.3 1339.4C1286.9 1339.2 1283.4 1338.8 1280 1338.5C1276.5 1338.3 1273.1 1337.9 1269.6 1337.9C1266.2 1337.8 1262.7 1338 1259.2 1338C1255.8 1338 1252.3 1337.7 1248.9 1337.7C1245.4 1337.7 1242 1338 1238.5 1337.9C1235.1 1337.7 1231.6 1337 1228.2 1336.5C1224.7 1336 1221.3 1335.3 1217.8 1334.8C1214.4 1334.3 1210.9 1333.7 1207.5 1333.6C1204 1333.6 1200.6 1333.7 1197.1 1334.5C1193.7 1335.3 1190.2 1337.3 1186.8 1338.5C1183.3 1339.7 1179.9 1340.6 1176.4 1341.6C1173 1342.5 1169.5 1343.1 1166.1 1344.1C1162.6 1345.1 1159.2 1346.6 1155.7 1347.5C1152.3 1348.3 1148.8 1348.9 1145.4 1349.2C1141.9 1349.5 1136.7 1349.2 1135 1349.2Z" fill="#fd9a82"/>
<path d="M1135 1344.1C1136.7 1343.8 1141.9 1343.4 1145.4 1342.4C1148.8 1341.5 1152.3 1340.3 1155.7 1338.4C1159.2 1336.4 1162.6 1333.4 1166.1 1330.6C1169.5 1327.8 1173 1324.4 1176.4 1321.4C1179.9 1318.5 1183.3 1315.4 1186.8 1313.2C1190.2 1310.9 1193.7 1309.4 1197.1 1307.8C1200.6 1306.1 1204 1304.7 1207.5 1303.2C1210.9 1301.6 1214.4 1300 1217.8 1298.5C1221.3 1296.9 1224.7 1295.3 1228.2 1293.7C1231.6 1292.2 1235.1 1290.7 1238.5 1289.2C1242 1287.6 1245.4 1286.1 1248.9 1284.4C1252.3 1282.8 1255.8 1281 1259.2 1279.2C1262.7 1277.4 1266.2 1275.5 1269.6 1273.8C1273.1 1272 1276.5 1270.3 1280 1268.5C1283.4 1266.7 1286.9 1264.8 1290.3 1263.1C1293.8 1261.4 1297.2 1260 1300.7 1258.5C1304.1 1257.1 1307.6 1255.8 1311 1254.5C1314.5 1253.1 1317.9 1251.9 1321.4 1250.4C1324.8 1249 1328.3 1247.6 1331.7 1245.9C1335.2 1244.1 1338.6 1242.1 1342.1 1240.1C1345.5 1238.1 1349 1235.7 1352.4 1233.9C1355.9 1232 1359.3 1230.2 1362.8 1228.8C1366.2 1227.4 1369.7 1226.3 1373.1 1225.6C1376.6 1224.8 1380 1224.8 1383.5 1224.4C1387 1224 1390.4 1223.7 1393.9 1223.4C1397.3 1223 1400.8 1223.1 1404.2 1222.4C1407.7 1221.7 1411.1 1220.5 1414.6 1219.1C1418 1217.8 1421.5 1216.1 1424.9 1214.4C1428.4 1212.7 1431.8 1210.8 1435.3 1209.2C1438.7 1207.5 1442.2 1206 1445.6 1204.4C1449.1 1202.8 1452.5 1201.2 1456 1199.5C1459.4 1197.9 1462.9 1196.2 1466.3 1194.5C1469.8 1192.7 1473.2 1190.8 1476.7 1189C1480.1 1187.3 1483.6 1185.4 1487 1183.8C1490.5 1182.3 1493.9 1180.9 1497.4 1179.7C1500.8 1178.6 1506 1177.3 1507.8 1176.9L1507.8 1277C1506 1277.3 1500.8 1278.4 1497.4 1279.2C1493.9 1280 1490.5 1281 1487 1281.9C1483.6 1282.8 1480.1 1283.8 1476.7 1284.6C1473.2 1285.4 1469.8 1286.1 1466.3 1286.8C1462.9 1287.5 1459.4 1288.3 1456 1289C1452.5 1289.7 1449.1 1290.1 1445.6 1290.8C1442.2 1291.5 1438.7 1292.4 1435.3 1293.2C1431.8 1294.1 1428.4 1295.1 1424.9 1295.9C1421.5 1296.8 1418 1297.7 1414.6 1298.3C1411.1 1298.9 1407.7 1299.4 1404.2 1299.5C1400.8 1299.5 1397.3 1299 1393.9 1298.6C1390.4 1298.3 1387 1297.7 1383.5 1297.4C1380 1297.2 1376.6 1297 1373.1 1297.1C1369.7 1297.2 1366.2 1297.6 1362.8 1298.1C1359.3 1298.6 1355.9 1299.2 1352.4 1300C1349 1300.7 1345.5 1301.8 1342.1 1302.7C1338.6 1303.6 1335.2 1304.5 1331.7 1305.4C1328.3 1306.3 1324.8 1307.2 1321.4 1307.9C1317.9 1308.7 1314.5 1309.3 1311 1310C1307.6 1310.6 1304.1 1311.2 1300.7 1311.8C1297.2 1312.4 1293.8 1312.8 1290.3 1313.3C1286.9 1313.8 1283.4 1314.3 1280 1314.9C1276.5 1315.4 1273.1 1316 1269.6 1316.5C1266.2 1317.1 1262.7 1317.8 1259.2 1318.4C1255.8 1319 1252.3 1319.7 1248.9 1320.3C1245.4 1320.8 1242 1321.5 1238.5 1321.8C1235.1 1322 1231.6 1321.7 1228.2 1321.8C1224.7 1321.8 1221.3 1322 1217.8 1322.1C1214.4 1322.2 1210.9 1322.2 1207.5 1322.5C1204 1322.7 1200.6 1322.9 1197.1 1323.8C1193.7 1324.7 1190.2 1326.2 1186.8 1327.9C1183.3 1329.5 1179.9 1331.9 1176.4 1333.8C1173 1335.7 1169.5 1337.3 1166.1 1339C1162.6 1340.8 1159.2 1342.9 1155.7 1344.1C1152.3 1345.3 1148.8 1345.9 1145.4 1346.5C1141.9 1347 1136.7 1347.3 1135 1347.5Z" fill="#f66b59"/>
</g>
<rect x="1134.9" y="1341.6" width="375.5" height="8.4" fill="#fff"/>
<g clip-path="url(#c7)">
<path d="M1126.7 1349.5C1128.1 1348.5 1131.9 1345.9 1135 1343.8C1138.1 1341.6 1141.9 1339.4 1145.4 1336.7C1148.8 1333.9 1152.3 1330 1155.7 1327.2C1159.2 1324.4 1162.6 1321.6 1166.1 1319.8C1169.5 1317.9 1173 1317 1176.4 1316.2C1179.9 1315.4 1183.3 1315.4 1186.8 1315.2C1190.2 1315 1193.7 1315.2 1197.1 1315.2C1200.6 1315.2 1204 1315.7 1207.5 1315C1210.9 1314.4 1214.4 1312.7 1217.8 1311.3C1221.3 1309.9 1224.7 1307.9 1228.2 1306.6C1231.6 1305.2 1235.1 1303.6 1238.5 1303.2C1242 1302.8 1245.4 1303.7 1248.9 1304C1252.3 1304.4 1255.8 1304.9 1259.2 1305.2C1262.7 1305.5 1266.2 1306.1 1269.6 1305.9C1273.1 1305.7 1276.5 1304.9 1280 1303.9C1283.4 1302.8 1286.9 1300.9 1290.3 1299.5C1293.8 1298.1 1297.2 1296.6 1300.7 1295.4C1304.1 1294.3 1307.6 1293.7 1311 1292.5C1314.5 1291.4 1317.9 1290 1321.4 1288.6C1324.8 1287.3 1328.3 1285.7 1331.7 1284.2C1335.2 1282.8 1338.6 1281.3 1342.1 1280.2C1345.5 1279.1 1349 1278.1 1352.4 1277.5C1355.9 1276.9 1359.3 1276.6 1362.8 1276.5C1366.2 1276.4 1369.7 1277 1373.1 1276.8C1376.6 1276.6 1380 1276.1 1383.5 1275.1C1387 1274.1 1390.4 1272.6 1393.9 1270.7C1397.3 1268.9 1400.8 1266.7 1404.2 1264C1407.7 1261.2 1411.1 1257.5 1414.6 1254.5C1418 1251.5 1421.5 1248.6 1424.9 1245.9C1428.4 1243.1 1431.8 1240.5 1435.3 1237.9C1438.7 1235.3 1442.2 1233.1 1445.6 1230.1C1449.1 1227.2 1452.5 1223.7 1456 1220.3C1459.4 1216.9 1462.9 1213.2 1466.3 1209.8C1469.8 1206.5 1473.2 1203 1476.7 1200.4C1480.1 1197.7 1483.6 1195.7 1487 1193.9C1490.5 1192.2 1493.9 1191 1497.4 1189.9C1500.8 1188.8 1506 1187.9 1507.8 1187.5" fill="none" stroke="#0098a7" stroke-width="8.6" stroke-linejoin="round" stroke-linecap="butt"/>
<path d="M1126.7 1346.9C1128.1 1346.7 1131.9 1346.2 1135 1345.8C1138.1 1345.4 1141.9 1345.2 1145.4 1344.4C1148.8 1343.7 1152.3 1342.6 1155.7 1341.1C1159.2 1339.5 1162.6 1337.3 1166.1 1335.1C1169.5 1332.9 1173 1330.2 1176.4 1327.9C1179.9 1325.5 1183.3 1323.1 1186.8 1321.1C1190.2 1319.1 1193.7 1317.1 1197.1 1315.7C1200.6 1314.3 1204 1313.5 1207.5 1312.5C1210.9 1311.5 1214.4 1310.7 1217.8 1309.8C1221.3 1308.9 1224.7 1307.8 1228.2 1306.9C1231.6 1306 1235.1 1305 1238.5 1304.2C1242 1303.4 1245.4 1302.8 1248.9 1301.8C1252.3 1300.8 1255.8 1299.4 1259.2 1298.1C1262.7 1296.9 1266.2 1295.7 1269.6 1294.4C1273.1 1293.1 1276.5 1291.5 1280 1290.3C1283.4 1289.2 1286.9 1288.3 1290.3 1287.3C1293.8 1286.3 1297.2 1285.2 1300.7 1284.2C1304.1 1283.3 1307.6 1282.5 1311 1281.5C1314.5 1280.6 1317.9 1279.6 1321.4 1278.5C1324.8 1277.4 1328.3 1276.1 1331.7 1274.8C1335.2 1273.5 1338.6 1272.1 1342.1 1270.7C1345.5 1269.4 1349 1267.9 1352.4 1266.7C1355.9 1265.4 1359.3 1264.1 1362.8 1263.1C1366.2 1262.1 1369.7 1261.3 1373.1 1260.7C1376.6 1260.2 1380 1260 1383.5 1259.9C1387 1259.8 1390.4 1260.1 1393.9 1260.2C1397.3 1260.4 1400.8 1261 1404.2 1260.9C1407.7 1260.9 1411.1 1260.5 1414.6 1259.9C1418 1259.3 1421.5 1258.3 1424.9 1257.2C1428.4 1256.1 1431.8 1254.5 1435.3 1253.1C1438.7 1251.8 1442.2 1250.5 1445.6 1249.2C1449.1 1248 1452.5 1247 1456 1245.9C1459.4 1244.8 1462.9 1243.9 1466.3 1242.6C1469.8 1241.4 1473.2 1240.1 1476.7 1238.6C1480.1 1237.1 1483.6 1235.3 1487 1233.9C1490.5 1232.4 1493.9 1231 1497.4 1229.8C1500.8 1228.6 1506 1227.3 1507.8 1226.8" fill="none" stroke="#e22e33" stroke-width="8.6" stroke-linejoin="round" stroke-linecap="butt"/>
</g>
<rect x="1132.58" y="1435.7" width="4.85" height="24.6" fill="#fff"/>
<rect x="1194.7" y="1435.7" width="4.85" height="24.6" fill="#fff"/>
<rect x="1256.83" y="1435.7" width="4.85" height="24.6" fill="#fff"/>
<rect x="1318.95" y="1435.7" width="4.85" height="24.6" fill="#fff"/>
<rect x="1381.08" y="1435.7" width="4.85" height="24.6" fill="#fff"/>
<rect x="1443.2" y="1435.7" width="4.85" height="24.6" fill="#fff"/>
<rect x="1505.33" y="1435.7" width="4.85" height="24.6" fill="#fff"/>
</g>
<g id="p8">
<rect x="1680.2" y="1005.2" width="332.2" height="4.9" fill="#fff"/>
<rect x="1680.2" y="1063.2" width="332.2" height="4.9" fill="#fff"/>
<rect x="1680.2" y="1179.1" width="332.2" height="4.9" fill="#fff"/>
<rect x="1680.2" y="1237" width="332.2" height="4.9" fill="#fff"/>
<rect x="1680.2" y="1295" width="332.2" height="4.9" fill="#fff"/>
<rect x="1680.2" y="1352.9" width="332.2" height="4.9" fill="#fff"/>
<rect x="1680.2" y="1410.9" width="332.2" height="4.9" fill="#fff"/>
<rect x="1827.7" y="1001.7" width="81.1" height="12" fill="#d0d0ce"/>
<clipPath id="c8"><rect x="1680.4" y="0" width="500" height="1654"/></clipPath>
<g clip-path="url(#c8)">
<path d="M1680.4 1121.3L1689.6 1119.5L1698.8 1109.7L1708.1 1108.5L1717.3 1102.7L1726.5 1097.5L1735.7 1101.6L1744.9 1093.5L1754.2 1085.4L1763.4 1083L1772.6 1080.7L1781.8 1079.6L1791 1081.9L1800.3 1079.6L1809.5 1080.7L1818.7 1078.4L1827.9 1083.6L1837.1 1082.5L1846.3 1091.1L1855.6 1087.7L1864.8 1091.1L1874 1098.7L1883.2 1101.6L1892.4 1108.5L1901.7 1112L1910.9 1117.8L1920.1 1123.6L1929.3 1135.2L1938.5 1141L1947.8 1152.6L1957 1158.4L1966.2 1164.2L1975.4 1170L1984.6 1170L1993.9 1175.8L2003.1 1181.5L2012.3 1175.8L2012.3 1384.4L2003.1 1385.5L1993.9 1378L1984.6 1369.3L1975.4 1368.1L1966.2 1358.9L1957 1348.4L1947.8 1339.2L1938.5 1325.3L1929.3 1313.7L1920.1 1300.9L1910.9 1291.7L1901.7 1283L1892.4 1277.2L1883.2 1261.5L1874 1252.8L1864.8 1239.5L1855.6 1227.9L1846.3 1224.4L1837.1 1216.3L1827.9 1211.7L1818.7 1202.4L1809.5 1197.8L1800.3 1194.3L1791 1189.7L1781.8 1181.5L1772.6 1175.8L1763.4 1172.3L1754.2 1168.8L1744.9 1166.5L1735.7 1166.5L1726.5 1152.6L1717.3 1147.9L1708.1 1144.5L1698.8 1137.5L1689.6 1135.2L1680.4 1125.9Z" fill="#b6b5b3"/>
<path d="M1680.4 1122.4L1689.6 1121.3L1698.8 1116.6L1708.1 1117.2L1717.3 1113.7L1726.5 1110.9L1735.7 1117.8L1744.9 1112L1754.2 1106.2L1763.4 1105.1L1772.6 1103.9L1781.8 1105.1L1791 1108.5L1800.3 1108L1809.5 1109.1L1818.7 1108.5L1827.9 1114.9L1837.1 1116.6L1846.3 1125.9L1855.6 1123.6L1864.8 1128.2L1874 1137.5L1883.2 1143.3L1892.4 1152.6L1901.7 1156.1L1910.9 1163L1920.1 1170L1929.3 1181.5L1938.5 1188.5L1947.8 1201.3L1957 1208.2L1966.2 1214L1975.4 1221L1984.6 1221L1993.9 1226.8L2003.1 1232.5L2012.3 1227.9L2012.3 1334L2003.1 1335.7L1993.9 1329.3L1984.6 1321.8L1975.4 1321.2L1966.2 1313.7L1957 1303.8L1947.8 1295.1L1938.5 1283L1929.3 1271.4L1920.1 1259.2L1910.9 1249.9L1901.7 1241.2L1892.4 1234.9L1883.2 1224.4L1874 1216.3L1864.8 1202.4L1855.6 1195.5L1846.3 1193.1L1837.1 1183.9L1827.9 1181L1818.7 1172.3L1809.5 1168.2L1800.3 1165.9L1791 1163L1781.8 1156.1L1772.6 1152.6L1763.4 1150.3L1754.2 1147.9L1744.9 1147.9L1735.7 1150.3L1726.5 1138.7L1717.3 1136.9L1708.1 1135.2L1698.8 1130.6L1689.6 1130.6L1680.4 1124.8Z" fill="#9bd5dc"/>
<path d="M1680.4 1125.9L1689.6 1125.9L1698.8 1120.1L1708.1 1123.6L1717.3 1123.6L1726.5 1123.6L1735.7 1120.1L1744.9 1114.3L1754.2 1112L1763.4 1119.5L1772.6 1116.6L1781.8 1110.9L1791 1117.2L1800.3 1119L1809.5 1112L1818.7 1117.2L1827.9 1113.7L1837.1 1107.4L1846.3 1113.2L1855.6 1113.2L1864.8 1111.4L1874 1108L1883.2 1109.1L1892.4 1106.2L1901.7 1103.9L1910.9 1101.6L1920.1 1103.9L1929.3 1106.2L1938.5 1105.6L1947.8 1110.3L1957 1105.6L1966.2 1107.4L1975.4 1111.4L1984.6 1111.4L1993.9 1109.1L2003.1 1112L2012.3 1113.2L2012.3 1277.7L2003.1 1278.9L1993.9 1275.4L1984.6 1270.8L1975.4 1269.6L1966.2 1262.7L1957 1260.4L1947.8 1265L1938.5 1255.1L1929.3 1250.5L1920.1 1245.9L1910.9 1244.7L1901.7 1240.7L1892.4 1244.1L1883.2 1241.8L1874 1232.5L1864.8 1239.5L1855.6 1231.4L1846.3 1227.9L1837.1 1226.8L1827.9 1221L1818.7 1221L1809.5 1214.6L1800.3 1212.3L1791 1207.6L1781.8 1200.1L1772.6 1196L1763.4 1192.6L1754.2 1182.7L1744.9 1176.3L1735.7 1172.9L1726.5 1170L1717.3 1161.3L1708.1 1158.9L1698.8 1145.6L1689.6 1139.8L1680.4 1139.2Z" fill="#fd9a82"/>
<path d="M1680.4 1128.2L1689.6 1128.8L1698.8 1129.4L1708.1 1130.6L1717.3 1132.9L1726.5 1134L1735.7 1135.8L1744.9 1134L1754.2 1131.1L1763.4 1137.5L1772.6 1136.3L1781.8 1134L1791 1139.8L1800.3 1142.1L1809.5 1138.1L1818.7 1141L1827.9 1139.8L1837.1 1137.5L1846.3 1142.1L1855.6 1142.7L1864.8 1143.3L1874 1138.7L1883.2 1142.1L1892.4 1140.4L1901.7 1138.1L1910.9 1136.9L1920.1 1139.2L1929.3 1142.1L1938.5 1143.3L1947.8 1148.5L1957 1144.5L1966.2 1145.6L1975.4 1150.8L1984.6 1151.4L1993.9 1150.8L2003.1 1153.7L2012.3 1154.3L2012.3 1240.1L2003.1 1239.5L1993.9 1236.6L1984.6 1234.3L1975.4 1232.5L1966.2 1225.6L1957 1223.3L1947.8 1226.8L1938.5 1218.6L1929.3 1215.2L1920.1 1211.7L1910.9 1209.4L1901.7 1207L1892.4 1210.5L1883.2 1209.4L1874 1202.4L1864.8 1208.2L1855.6 1202.4L1846.3 1199.5L1837.1 1197.2L1827.9 1194.3L1818.7 1195.5L1809.5 1188.5L1800.3 1189.1L1791 1185L1781.8 1177.5L1772.6 1176.3L1763.4 1174.6L1754.2 1163.6L1744.9 1157.2L1735.7 1156.1L1726.5 1158.4L1717.3 1152.6L1708.1 1149.1L1698.8 1137.5L1689.6 1135.8L1680.4 1131.7Z" fill="#f66b59"/>
</g>
<rect x="1680.3" y="1119.4" width="375.7" height="8.4" fill="#fff"/>
<g clip-path="url(#c8)">
<path d="M1673 1121.7L1680.4 1123.6L1689.6 1125.9L1698.8 1123.6L1708.1 1126.5L1717.3 1125.3L1726.5 1124.8L1735.7 1134L1744.9 1130L1754.2 1127.1L1763.4 1127.7L1772.6 1128.2L1781.8 1130.6L1791 1135.8L1800.3 1136.9L1809.5 1138.7L1818.7 1140.4L1827.9 1147.9L1837.1 1150.3L1846.3 1159.5L1855.6 1159.5L1864.8 1165.3L1874 1176.9L1883.2 1183.9L1892.4 1195.5L1901.7 1198.9L1910.9 1207L1920.1 1216.3L1929.3 1226.8L1938.5 1236L1947.8 1249.4L1957 1256.9L1966.2 1264.4L1975.4 1272.5L1984.6 1272.5L1993.9 1277.7L2003.1 1283L2012.3 1280.6" fill="none" stroke="#0098a7" stroke-width="8.6" stroke-linejoin="round" stroke-linecap="butt"/>
<path d="M1673 1129L1680.4 1130L1689.6 1131.1L1698.8 1132.3L1708.1 1139.8L1717.3 1142.7L1726.5 1146.2L1735.7 1145.6L1744.9 1145.6L1754.2 1147.9L1763.4 1156.1L1772.6 1156.1L1781.8 1156.1L1791 1162.4L1800.3 1165.9L1809.5 1163L1818.7 1168.8L1827.9 1167.1L1837.1 1167.6L1846.3 1170.5L1855.6 1172.3L1864.8 1175.8L1874 1169.4L1883.2 1175.8L1892.4 1174.6L1901.7 1172.3L1910.9 1172.3L1920.1 1174L1929.3 1176.9L1938.5 1180.4L1947.8 1187.9L1957 1182.7L1966.2 1185L1975.4 1191.4L1984.6 1193.1L1993.9 1193.7L2003.1 1196.6L2012.3 1197.2" fill="none" stroke="#e22e33" stroke-width="8.6" stroke-linejoin="round" stroke-linecap="butt"/>
</g>
<rect x="1677.98" y="1435.7" width="4.85" height="24.6" fill="#fff"/>
<rect x="1733.3" y="1435.7" width="4.85" height="24.6" fill="#fff"/>
<rect x="1788.61" y="1435.7" width="4.85" height="24.6" fill="#fff"/>
<rect x="1843.93" y="1435.7" width="4.85" height="24.6" fill="#fff"/>
<rect x="1899.25" y="1435.7" width="4.85" height="24.6" fill="#fff"/>
<rect x="1954.56" y="1435.7" width="4.85" height="24.6" fill="#fff"/>
<rect x="2009.88" y="1435.7" width="4.85" height="24.6" fill="#fff"/>
</g>
<path d="M227.1 358.9L258.6 408.9M315.9 553.9L391.1 644.2M206.5 641L223.3 686.2" stroke="#1d1a18" stroke-width="1.4" fill="none"/>
<g id="txt">
<text x="22.2" y="52.5" font-size="41" textLength="1568.8" lengthAdjust="spacingAndGlyphs" stroke="#1d1a18" stroke-width="0.75" stroke-linejoin="round">Spillover effects of a policy tightening of the Bundesbank and the US Fed on countries</text>
<text x="24" y="102.5" font-size="41" textLength="648.5" lengthAdjust="spacingAndGlyphs" stroke="#1d1a18" stroke-width="0.75" stroke-linejoin="round">with and without Deutschmark peg</text>
<text x="1983" y="45.5" font-size="29" textLength="96" lengthAdjust="spacingAndGlyphs" stroke="#ebebeb" stroke-width="0.55">Figure 2</text>
<rect x="23.5" y="152.1" width="47.3" height="8.4" fill="#0098a7"/>
<rect x="303.7" y="152.1" width="47.3" height="8.4" fill="#e22e33"/>
<text x="81.5" y="165.5" font-size="29" textLength="186.1" lengthAdjust="spacingAndGlyphs">German Shock</text>
<text x="361.8" y="165.5" font-size="29" textLength="119.4" lengthAdjust="spacingAndGlyphs">US Shock</text>
<text x="22" y="1631" font-size="29.5" textLength="263.5" lengthAdjust="spacingAndGlyphs" stroke="#ebebeb" stroke-width="0.55">Deutsche Bundesbank</text>
<text x="688.4" y="242.4" font-size="40.5" textLength="724.1" lengthAdjust="spacingAndGlyphs" stroke="#1d1a18" stroke-width="0.75" stroke-linejoin="round">Countries pegged vis-à-vis Deutschmark</text>
<text x="707.6" y="918.4" font-size="40.5" textLength="687.4" lengthAdjust="spacingAndGlyphs" stroke="#1d1a18" stroke-width="0.75" stroke-linejoin="round">Countries with floating exchange rate</text>
<text x="111.2" y="283.6" font-size="32" textLength="307" lengthAdjust="spacingAndGlyphs" stroke="#1d1a18" stroke-width="0.75" stroke-linejoin="round">Industrial production</text>
<text x="629.6" y="283.6" font-size="32" textLength="315" lengthAdjust="spacingAndGlyphs" stroke="#1d1a18" stroke-width="0.75" stroke-linejoin="round">Consumer price index</text>
<text x="1215" y="283.8" font-size="32" textLength="213.8" lengthAdjust="spacingAndGlyphs" stroke="#1d1a18" stroke-width="0.75" stroke-linejoin="round">Nominal credit</text>
<text x="1756.4" y="283.3" font-size="32" textLength="222.8" lengthAdjust="spacingAndGlyphs" stroke="#1d1a18" stroke-width="0.9" stroke-linejoin="round">Unemployment</text>
<text x="1838.6" y="319.3" font-size="32" textLength="59" lengthAdjust="spacingAndGlyphs" stroke="#1d1a18" stroke-width="0.9" stroke-linejoin="round">rate</text>
<text x="34.4" y="281.3" font-size="29" textLength="25" lengthAdjust="spacingAndGlyphs" stroke="#d0d0ce" stroke-width="0.55">%</text>
<text x="557.1" y="281" font-size="29" textLength="24.9" lengthAdjust="spacingAndGlyphs" stroke="#d0d0ce" stroke-width="0.55">%</text>
<text x="1092.5" y="281.2" font-size="29" textLength="25.1" lengthAdjust="spacingAndGlyphs" stroke="#d0d0ce" stroke-width="0.55">%</text>
<text x="1608.8" y="280.7" font-size="29" textLength="125.5" lengthAdjust="spacingAndGlyphs" stroke="#d0d0ce" stroke-width="0.55">Pct. points</text>
<text x="219" y="832.6" font-size="27.5" textLength="91.8" lengthAdjust="spacingAndGlyphs" stroke="#d0d0ce" stroke-width="0.55">Months</text>
<text x="740.8" y="832.6" font-size="27.5" textLength="91.8" lengthAdjust="spacingAndGlyphs" stroke="#d0d0ce" stroke-width="0.55">Months</text>
<text x="1276.5" y="832.6" font-size="27.5" textLength="91.8" lengthAdjust="spacingAndGlyphs" stroke="#d0d0ce" stroke-width="0.55">Months</text>
<text x="1822" y="832.6" font-size="27.5" textLength="91.8" lengthAdjust="spacingAndGlyphs" stroke="#d0d0ce" stroke-width="0.55">Months</text>
<text x="111.2" y="983.6" font-size="32" textLength="307" lengthAdjust="spacingAndGlyphs" stroke="#1d1a18" stroke-width="0.75" stroke-linejoin="round">Industrial production</text>
<text x="629.6" y="983.6" font-size="32" textLength="315" lengthAdjust="spacingAndGlyphs" stroke="#1d1a18" stroke-width="0.75" stroke-linejoin="round">Consumer price index</text>
<text x="1215" y="983.8" font-size="32" textLength="213.8" lengthAdjust="spacingAndGlyphs" stroke="#1d1a18" stroke-width="0.75" stroke-linejoin="round">Nominal credit</text>
<text x="1756.4" y="983.3" font-size="32" textLength="222.8" lengthAdjust="spacingAndGlyphs" stroke="#1d1a18" stroke-width="0.9" stroke-linejoin="round">Unemployment</text>
<text x="1838.6" y="1019.3" font-size="32" textLength="59" lengthAdjust="spacingAndGlyphs" stroke="#1d1a18" stroke-width="0.9" stroke-linejoin="round">rate</text>
<text x="46.3" y="981.3" font-size="29" textLength="25" lengthAdjust="spacingAndGlyphs" stroke="#d0d0ce" stroke-width="0.55">%</text>
<text x="557.1" y="981" font-size="29" textLength="24.9" lengthAdjust="spacingAndGlyphs" stroke="#d0d0ce" stroke-width="0.55">%</text>
<text x="1092.5" y="981.2" font-size="29" textLength="25.1" lengthAdjust="spacingAndGlyphs" stroke="#d0d0ce" stroke-width="0.55">%</text>
<text x="1608.8" y="980.7" font-size="29" textLength="125.5" lengthAdjust="spacingAndGlyphs" stroke="#d0d0ce" stroke-width="0.55">Pct. points</text>
<text x="219" y="1532.6" font-size="27.5" textLength="91.8" lengthAdjust="spacingAndGlyphs" stroke="#d0d0ce" stroke-width="0.55">Months</text>
<text x="740.8" y="1532.6" font-size="27.5" textLength="91.8" lengthAdjust="spacingAndGlyphs" stroke="#d0d0ce" stroke-width="0.55">Months</text>
<text x="1276.5" y="1532.6" font-size="27.5" textLength="91.8" lengthAdjust="spacingAndGlyphs" stroke="#d0d0ce" stroke-width="0.55">Months</text>
<text x="1822" y="1532.6" font-size="27.5" textLength="91.8" lengthAdjust="spacingAndGlyphs" stroke="#d0d0ce" stroke-width="0.55">Months</text>
<text x="22" y="320.3" font-size="27.5" stroke="#d0d0ce" stroke-width="0.55">+</text>
<text x="60.5" y="320.3" font-size="27.5" text-anchor="end" stroke="#d0d0ce" stroke-width="0.55">4</text>
<text x="22" y="370.7" font-size="27.5" stroke="#d0d0ce" stroke-width="0.55">+</text>
<text x="60.5" y="370.7" font-size="27.5" text-anchor="end" stroke="#d0d0ce" stroke-width="0.55">3</text>
<text x="22" y="421.1" font-size="27.5" stroke="#d0d0ce" stroke-width="0.55">+</text>
<text x="60.5" y="421.1" font-size="27.5" text-anchor="end" stroke="#d0d0ce" stroke-width="0.55">2</text>
<text x="22" y="471.4" font-size="27.5" stroke="#d0d0ce" stroke-width="0.55">+</text>
<text x="60.5" y="471.4" font-size="27.5" text-anchor="end" stroke="#d0d0ce" stroke-width="0.55">1</text>
<text x="60.5" y="521.8" font-size="27.5" text-anchor="end" stroke="#d0d0ce" stroke-width="0.55">0</text>
<text x="22" y="572.2" font-size="27.5" stroke="#d0d0ce" stroke-width="0.55">−</text>
<text x="60.5" y="572.2" font-size="27.5" text-anchor="end" stroke="#d0d0ce" stroke-width="0.55">1</text>
<text x="22" y="622.6" font-size="27.5" stroke="#d0d0ce" stroke-width="0.55">−</text>
<text x="60.5" y="622.6" font-size="27.5" text-anchor="end" stroke="#d0d0ce" stroke-width="0.55">2</text>
<text x="22" y="672.9" font-size="27.5" stroke="#d0d0ce" stroke-width="0.55">−</text>
<text x="60.5" y="672.9" font-size="27.5" text-anchor="end" stroke="#d0d0ce" stroke-width="0.55">3</text>
<text x="22" y="723.3" font-size="27.5" stroke="#d0d0ce" stroke-width="0.55">−</text>
<text x="60.5" y="723.3" font-size="27.5" text-anchor="end" stroke="#d0d0ce" stroke-width="0.55">4</text>
<text x="22" y="1017.4" font-size="27.5" stroke="#d0d0ce" stroke-width="0.55">+</text>
<text x="60.5" y="1017.4" font-size="27.5" text-anchor="end" stroke="#d0d0ce" stroke-width="0.55">4</text>
<text x="22" y="1068.1" font-size="27.5" stroke="#d0d0ce" stroke-width="0.55">+</text>
<text x="60.5" y="1068.1" font-size="27.5" text-anchor="end" stroke="#d0d0ce" stroke-width="0.55">3</text>
<text x="22" y="1118.8" font-size="27.5" stroke="#d0d0ce" stroke-width="0.55">+</text>
<text x="60.5" y="1118.8" font-size="27.5" text-anchor="end" stroke="#d0d0ce" stroke-width="0.55">2</text>
<text x="22" y="1169.5" font-size="27.5" stroke="#d0d0ce" stroke-width="0.55">+</text>
<text x="60.5" y="1169.5" font-size="27.5" text-anchor="end" stroke="#d0d0ce" stroke-width="0.55">1</text>
<text x="60.5" y="1220.2" font-size="27.5" text-anchor="end" stroke="#d0d0ce" stroke-width="0.55">0</text>
<text x="22" y="1271" font-size="27.5" stroke="#d0d0ce" stroke-width="0.55">−</text>
<text x="60.5" y="1271" font-size="27.5" text-anchor="end" stroke="#d0d0ce" stroke-width="0.55">1</text>
<text x="22" y="1321.7" font-size="27.5" stroke="#d0d0ce" stroke-width="0.55">−</text>
<text x="60.5" y="1321.7" font-size="27.5" text-anchor="end" stroke="#d0d0ce" stroke-width="0.55">2</text>
<text x="22" y="1372.4" font-size="27.5" stroke="#d0d0ce" stroke-width="0.55">−</text>
<text x="60.5" y="1372.4" font-size="27.5" text-anchor="end" stroke="#d0d0ce" stroke-width="0.55">3</text>
<text x="22" y="1423.1" font-size="27.5" stroke="#d0d0ce" stroke-width="0.55">−</text>
<text x="60.5" y="1423.1" font-size="27.5" text-anchor="end" stroke="#d0d0ce" stroke-width="0.55">4</text>
<text x="545.3" y="320.3" font-size="27.5" stroke="#d0d0ce" stroke-width="0.55">+</text>
<text x="582.4" y="320.3" font-size="27.5" text-anchor="end" stroke="#d0d0ce" stroke-width="0.55">3</text>
<text x="545.3" y="387.5" font-size="27.5" stroke="#d0d0ce" stroke-width="0.55">+</text>
<text x="582.4" y="387.5" font-size="27.5" text-anchor="end" stroke="#d0d0ce" stroke-width="0.55">2</text>
<text x="545.3" y="454.6" font-size="27.5" stroke="#d0d0ce" stroke-width="0.55">+</text>
<text x="582.4" y="454.6" font-size="27.5" text-anchor="end" stroke="#d0d0ce" stroke-width="0.55">1</text>
<text x="582.4" y="521.8" font-size="27.5" text-anchor="end" stroke="#d0d0ce" stroke-width="0.55">0</text>
<text x="545.3" y="589" font-size="27.5" stroke="#d0d0ce" stroke-width="0.55">−</text>
<text x="582.4" y="589" font-size="27.5" text-anchor="end" stroke="#d0d0ce" stroke-width="0.55">1</text>
<text x="545.3" y="656.1" font-size="27.5" stroke="#d0d0ce" stroke-width="0.55">−</text>
<text x="582.4" y="656.1" font-size="27.5" text-anchor="end" stroke="#d0d0ce" stroke-width="0.55">2</text>
<text x="545.3" y="723.3" font-size="27.5" stroke="#d0d0ce" stroke-width="0.55">−</text>
<text x="582.4" y="723.3" font-size="27.5" text-anchor="end" stroke="#d0d0ce" stroke-width="0.55">3</text>
<text x="545.3" y="1017.4" font-size="27.5" stroke="#d0d0ce" stroke-width="0.55">+</text>
<text x="582.4" y="1017.4" font-size="27.5" text-anchor="end" stroke="#d0d0ce" stroke-width="0.55">3</text>
<text x="545.3" y="1085" font-size="27.5" stroke="#d0d0ce" stroke-width="0.55">+</text>
<text x="582.4" y="1085" font-size="27.5" text-anchor="end" stroke="#d0d0ce" stroke-width="0.55">2</text>
<text x="545.3" y="1152.6" font-size="27.5" stroke="#d0d0ce" stroke-width="0.55">+</text>
<text x="582.4" y="1152.6" font-size="27.5" text-anchor="end" stroke="#d0d0ce" stroke-width="0.55">1</text>
<text x="582.4" y="1220.2" font-size="27.5" text-anchor="end" stroke="#d0d0ce" stroke-width="0.55">0</text>
<text x="545.3" y="1287.9" font-size="27.5" stroke="#d0d0ce" stroke-width="0.55">−</text>
<text x="582.4" y="1287.9" font-size="27.5" text-anchor="end" stroke="#d0d0ce" stroke-width="0.55">1</text>
<text x="545.3" y="1355.5" font-size="27.5" stroke="#d0d0ce" stroke-width="0.55">−</text>
<text x="582.4" y="1355.5" font-size="27.5" text-anchor="end" stroke="#d0d0ce" stroke-width="0.55">2</text>
<text x="545.3" y="1423.1" font-size="27.5" stroke="#d0d0ce" stroke-width="0.55">−</text>
<text x="582.4" y="1423.1" font-size="27.5" text-anchor="end" stroke="#d0d0ce" stroke-width="0.55">3</text>
<text x="1067.9" y="320.3" font-size="27.5" stroke="#d0d0ce" stroke-width="0.55">+</text>
<text x="1118.7" y="320.3" font-size="27.5" text-anchor="end" stroke="#d0d0ce" stroke-width="0.55">10</text>
<text x="1067.9" y="387.5" font-size="27.5" stroke="#d0d0ce" stroke-width="0.55">+</text>
<text x="1118.7" y="387.5" font-size="27.5" text-anchor="end" stroke="#d0d0ce" stroke-width="0.55">8</text>
<text x="1067.9" y="454.6" font-size="27.5" stroke="#d0d0ce" stroke-width="0.55">+</text>
<text x="1118.7" y="454.6" font-size="27.5" text-anchor="end" stroke="#d0d0ce" stroke-width="0.55">6</text>
<text x="1067.9" y="521.8" font-size="27.5" stroke="#d0d0ce" stroke-width="0.55">+</text>
<text x="1118.7" y="521.8" font-size="27.5" text-anchor="end" stroke="#d0d0ce" stroke-width="0.55">4</text>
<text x="1067.9" y="588.9" font-size="27.5" stroke="#d0d0ce" stroke-width="0.55">+</text>
<text x="1118.7" y="588.9" font-size="27.5" text-anchor="end" stroke="#d0d0ce" stroke-width="0.55">2</text>
<text x="1118.7" y="656.1" font-size="27.5" text-anchor="end" stroke="#d0d0ce" stroke-width="0.55">0</text>
<text x="1067.9" y="723.3" font-size="27.5" stroke="#d0d0ce" stroke-width="0.55">−</text>
<text x="1118.7" y="723.3" font-size="27.5" text-anchor="end" stroke="#d0d0ce" stroke-width="0.55">2</text>
<text x="1067.9" y="1017.3" font-size="27.5" stroke="#d0d0ce" stroke-width="0.55">+</text>
<text x="1118.7" y="1017.3" font-size="27.5" text-anchor="end" stroke="#d0d0ce" stroke-width="0.55">10</text>
<text x="1067.9" y="1084.9" font-size="27.5" stroke="#d0d0ce" stroke-width="0.55">+</text>
<text x="1118.7" y="1084.9" font-size="27.5" text-anchor="end" stroke="#d0d0ce" stroke-width="0.55">8</text>
<text x="1067.9" y="1152.6" font-size="27.5" stroke="#d0d0ce" stroke-width="0.55">+</text>
<text x="1118.7" y="1152.6" font-size="27.5" text-anchor="end" stroke="#d0d0ce" stroke-width="0.55">6</text>
<text x="1067.9" y="1220.2" font-size="27.5" stroke="#d0d0ce" stroke-width="0.55">+</text>
<text x="1118.7" y="1220.2" font-size="27.5" text-anchor="end" stroke="#d0d0ce" stroke-width="0.55">4</text>
<text x="1067.9" y="1287.9" font-size="27.5" stroke="#d0d0ce" stroke-width="0.55">+</text>
<text x="1118.7" y="1287.9" font-size="27.5" text-anchor="end" stroke="#d0d0ce" stroke-width="0.55">2</text>
<text x="1118.7" y="1355.5" font-size="27.5" text-anchor="end" stroke="#d0d0ce" stroke-width="0.55">0</text>
<text x="1067.9" y="1423.1" font-size="27.5" stroke="#d0d0ce" stroke-width="0.55">−</text>
<text x="1118.7" y="1423.1" font-size="27.5" text-anchor="end" stroke="#d0d0ce" stroke-width="0.55">2</text>
<text x="1603.1" y="320.8" font-size="27.5" stroke="#d0d0ce" stroke-width="0.55">+</text>
<text x="1663.7" y="320.8" font-size="27.5" text-anchor="end" stroke="#d0d0ce" stroke-width="0.55">1.0</text>
<text x="1603.1" y="378.2" font-size="27.5" stroke="#d0d0ce" stroke-width="0.55">+</text>
<text x="1663.7" y="378.2" font-size="27.5" text-anchor="end" stroke="#d0d0ce" stroke-width="0.55">0.5</text>
<text x="1625" y="435.7" font-size="27.5" stroke="#d0d0ce" stroke-width="0.55">0</text>
<text x="1603.1" y="493.2" font-size="27.5" stroke="#d0d0ce" stroke-width="0.55">−</text>
<text x="1663.7" y="493.2" font-size="27.5" text-anchor="end" stroke="#d0d0ce" stroke-width="0.55">0.5</text>
<text x="1603.1" y="550.7" font-size="27.5" stroke="#d0d0ce" stroke-width="0.55">−</text>
<text x="1663.7" y="550.7" font-size="27.5" text-anchor="end" stroke="#d0d0ce" stroke-width="0.55">1.0</text>
<text x="1603.1" y="608.1" font-size="27.5" stroke="#d0d0ce" stroke-width="0.55">−</text>
<text x="1663.7" y="608.1" font-size="27.5" text-anchor="end" stroke="#d0d0ce" stroke-width="0.55">1.5</text>
<text x="1603.1" y="665.6" font-size="27.5" stroke="#d0d0ce" stroke-width="0.55">−</text>
<text x="1663.7" y="665.6" font-size="27.5" text-anchor="end" stroke="#d0d0ce" stroke-width="0.55">2.0</text>
<text x="1603.1" y="723.1" font-size="27.5" stroke="#d0d0ce" stroke-width="0.55">−</text>
<text x="1663.7" y="723.1" font-size="27.5" text-anchor="end" stroke="#d0d0ce" stroke-width="0.55">2.5</text>
<text x="1603.1" y="1017.4" font-size="27.5" stroke="#d0d0ce" stroke-width="0.55">+</text>
<text x="1663.7" y="1017.4" font-size="27.5" text-anchor="end" stroke="#d0d0ce" stroke-width="0.55">1.0</text>
<text x="1603.1" y="1075.3" font-size="27.5" stroke="#d0d0ce" stroke-width="0.55">+</text>
<text x="1663.7" y="1075.3" font-size="27.5" text-anchor="end" stroke="#d0d0ce" stroke-width="0.55">0.5</text>
<text x="1625" y="1133.3" font-size="27.5" stroke="#d0d0ce" stroke-width="0.55">0</text>
<text x="1603.1" y="1191.2" font-size="27.5" stroke="#d0d0ce" stroke-width="0.55">−</text>
<text x="1663.7" y="1191.2" font-size="27.5" text-anchor="end" stroke="#d0d0ce" stroke-width="0.55">0.5</text>
<text x="1603.1" y="1249.2" font-size="27.5" stroke="#d0d0ce" stroke-width="0.55">−</text>
<text x="1663.7" y="1249.2" font-size="27.5" text-anchor="end" stroke="#d0d0ce" stroke-width="0.55">1.0</text>
<text x="1603.1" y="1307.1" font-size="27.5" stroke="#d0d0ce" stroke-width="0.55">−</text>
<text x="1663.7" y="1307.1" font-size="27.5" text-anchor="end" stroke="#d0d0ce" stroke-width="0.55">1.5</text>
<text x="1603.1" y="1365.1" font-size="27.5" stroke="#d0d0ce" stroke-width="0.55">−</text>
<text x="1663.7" y="1365.1" font-size="27.5" text-anchor="end" stroke="#d0d0ce" stroke-width="0.55">2.0</text>
<text x="1603.1" y="1423" font-size="27.5" stroke="#d0d0ce" stroke-width="0.55">−</text>
<text x="1663.7" y="1423" font-size="27.5" text-anchor="end" stroke="#d0d0ce" stroke-width="0.55">2.5</text>
<text x="77.5" y="795" font-size="27.5" text-anchor="middle" stroke="#d0d0ce" stroke-width="0.55">0</text>
<text x="139.7" y="795" font-size="27.5" text-anchor="middle" stroke="#d0d0ce" stroke-width="0.55">6</text>
<text x="201.8" y="795" font-size="27.5" text-anchor="middle" stroke="#d0d0ce" stroke-width="0.55">12</text>
<text x="264" y="795" font-size="27.5" text-anchor="middle" stroke="#d0d0ce" stroke-width="0.55">18</text>
<text x="326.1" y="795" font-size="27.5" text-anchor="middle" stroke="#d0d0ce" stroke-width="0.55">24</text>
<text x="388.2" y="795" font-size="27.5" text-anchor="middle" stroke="#d0d0ce" stroke-width="0.55">30</text>
<text x="450.4" y="795" font-size="27.5" text-anchor="middle" stroke="#d0d0ce" stroke-width="0.55">36</text>
<text x="600" y="795" font-size="27.5" text-anchor="middle" stroke="#d0d0ce" stroke-width="0.55">0</text>
<text x="662.2" y="795" font-size="27.5" text-anchor="middle" stroke="#d0d0ce" stroke-width="0.55">6</text>
<text x="724.3" y="795" font-size="27.5" text-anchor="middle" stroke="#d0d0ce" stroke-width="0.55">12</text>
<text x="786.4" y="795" font-size="27.5" text-anchor="middle" stroke="#d0d0ce" stroke-width="0.55">18</text>
<text x="848.5" y="795" font-size="27.5" text-anchor="middle" stroke="#d0d0ce" stroke-width="0.55">24</text>
<text x="910.6" y="795" font-size="27.5" text-anchor="middle" stroke="#d0d0ce" stroke-width="0.55">30</text>
<text x="972.7" y="795" font-size="27.5" text-anchor="middle" stroke="#d0d0ce" stroke-width="0.55">36</text>
<text x="1135.3" y="795" font-size="27.5" text-anchor="middle" stroke="#d0d0ce" stroke-width="0.55">0</text>
<text x="1197.4" y="795" font-size="27.5" text-anchor="middle" stroke="#d0d0ce" stroke-width="0.55">6</text>
<text x="1259.5" y="795" font-size="27.5" text-anchor="middle" stroke="#d0d0ce" stroke-width="0.55">12</text>
<text x="1321.7" y="795" font-size="27.5" text-anchor="middle" stroke="#d0d0ce" stroke-width="0.55">18</text>
<text x="1383.8" y="795" font-size="27.5" text-anchor="middle" stroke="#d0d0ce" stroke-width="0.55">24</text>
<text x="1445.9" y="795" font-size="27.5" text-anchor="middle" stroke="#d0d0ce" stroke-width="0.55">30</text>
<text x="1508" y="795" font-size="27.5" text-anchor="middle" stroke="#d0d0ce" stroke-width="0.55">36</text>
<text x="1680.7" y="795" font-size="27.5" text-anchor="middle" stroke="#d0d0ce" stroke-width="0.55">0</text>
<text x="1736" y="795" font-size="27.5" text-anchor="middle" stroke="#d0d0ce" stroke-width="0.55">6</text>
<text x="1791.3" y="795" font-size="27.5" text-anchor="middle" stroke="#d0d0ce" stroke-width="0.55">12</text>
<text x="1846.6" y="795" font-size="27.5" text-anchor="middle" stroke="#d0d0ce" stroke-width="0.55">18</text>
<text x="1902" y="795" font-size="27.5" text-anchor="middle" stroke="#d0d0ce" stroke-width="0.55">24</text>
<text x="1957.3" y="795" font-size="27.5" text-anchor="middle" stroke="#d0d0ce" stroke-width="0.55">30</text>
<text x="2012.6" y="795" font-size="27.5" text-anchor="middle" stroke="#d0d0ce" stroke-width="0.55">36</text>
<text x="77.5" y="1495" font-size="27.5" text-anchor="middle" stroke="#d0d0ce" stroke-width="0.55">0</text>
<text x="139.7" y="1495" font-size="27.5" text-anchor="middle" stroke="#d0d0ce" stroke-width="0.55">6</text>
<text x="201.8" y="1495" font-size="27.5" text-anchor="middle" stroke="#d0d0ce" stroke-width="0.55">12</text>
<text x="264" y="1495" font-size="27.5" text-anchor="middle" stroke="#d0d0ce" stroke-width="0.55">18</text>
<text x="326.1" y="1495" font-size="27.5" text-anchor="middle" stroke="#d0d0ce" stroke-width="0.55">24</text>
<text x="388.2" y="1495" font-size="27.5" text-anchor="middle" stroke="#d0d0ce" stroke-width="0.55">30</text>
<text x="450.4" y="1495" font-size="27.5" text-anchor="middle" stroke="#d0d0ce" stroke-width="0.55">36</text>
<text x="600" y="1495" font-size="27.5" text-anchor="middle" stroke="#d0d0ce" stroke-width="0.55">0</text>
<text x="662.2" y="1495" font-size="27.5" text-anchor="middle" stroke="#d0d0ce" stroke-width="0.55">6</text>
<text x="724.3" y="1495" font-size="27.5" text-anchor="middle" stroke="#d0d0ce" stroke-width="0.55">12</text>
<text x="786.4" y="1495" font-size="27.5" text-anchor="middle" stroke="#d0d0ce" stroke-width="0.55">18</text>
<text x="848.5" y="1495" font-size="27.5" text-anchor="middle" stroke="#d0d0ce" stroke-width="0.55">24</text>
<text x="910.6" y="1495" font-size="27.5" text-anchor="middle" stroke="#d0d0ce" stroke-width="0.55">30</text>
<text x="972.7" y="1495" font-size="27.5" text-anchor="middle" stroke="#d0d0ce" stroke-width="0.55">36</text>
<text x="1135.3" y="1495" font-size="27.5" text-anchor="middle" stroke="#d0d0ce" stroke-width="0.55">0</text>
<text x="1197.4" y="1495" font-size="27.5" text-anchor="middle" stroke="#d0d0ce" stroke-width="0.55">6</text>
<text x="1259.5" y="1495" font-size="27.5" text-anchor="middle" stroke="#d0d0ce" stroke-width="0.55">12</text>
<text x="1321.7" y="1495" font-size="27.5" text-anchor="middle" stroke="#d0d0ce" stroke-width="0.55">18</text>
<text x="1383.8" y="1495" font-size="27.5" text-anchor="middle" stroke="#d0d0ce" stroke-width="0.55">24</text>
<text x="1445.9" y="1495" font-size="27.5" text-anchor="middle" stroke="#d0d0ce" stroke-width="0.55">30</text>
<text x="1508" y="1495" font-size="27.5" text-anchor="middle" stroke="#d0d0ce" stroke-width="0.55">36</text>
<text x="1680.7" y="1495" font-size="27.5" text-anchor="middle" stroke="#d0d0ce" stroke-width="0.55">0</text>
<text x="1736" y="1495" font-size="27.5" text-anchor="middle" stroke="#d0d0ce" stroke-width="0.55">6</text>
<text x="1791.3" y="1495" font-size="27.5" text-anchor="middle" stroke="#d0d0ce" stroke-width="0.55">12</text>
<text x="1846.6" y="1495" font-size="27.5" text-anchor="middle" stroke="#d0d0ce" stroke-width="0.55">18</text>
<text x="1902" y="1495" font-size="27.5" text-anchor="middle" stroke="#d0d0ce" stroke-width="0.55">24</text>
<text x="1957.3" y="1495" font-size="27.5" text-anchor="middle" stroke="#d0d0ce" stroke-width="0.55">30</text>
<text x="2012.6" y="1495" font-size="27.5" text-anchor="middle" stroke="#d0d0ce" stroke-width="0.55">36</text>
<text x="85.6" y="351.7" font-size="27" textLength="263.7" lengthAdjust="spacingAndGlyphs" stroke="#d0d0ce" stroke-width="0.55">95% confidence band</text>
<text x="313" y="669.9" font-size="27" textLength="180.8" lengthAdjust="spacingAndGlyphs" stroke="#d0d0ce" stroke-width="0.55">Point estimator</text>
<text x="98" y="713.2" font-size="27" textLength="261.8" lengthAdjust="spacingAndGlyphs" stroke="#d0d0ce" stroke-width="0.55">68% confidence band</text>
</g>
</svg></body></html>
